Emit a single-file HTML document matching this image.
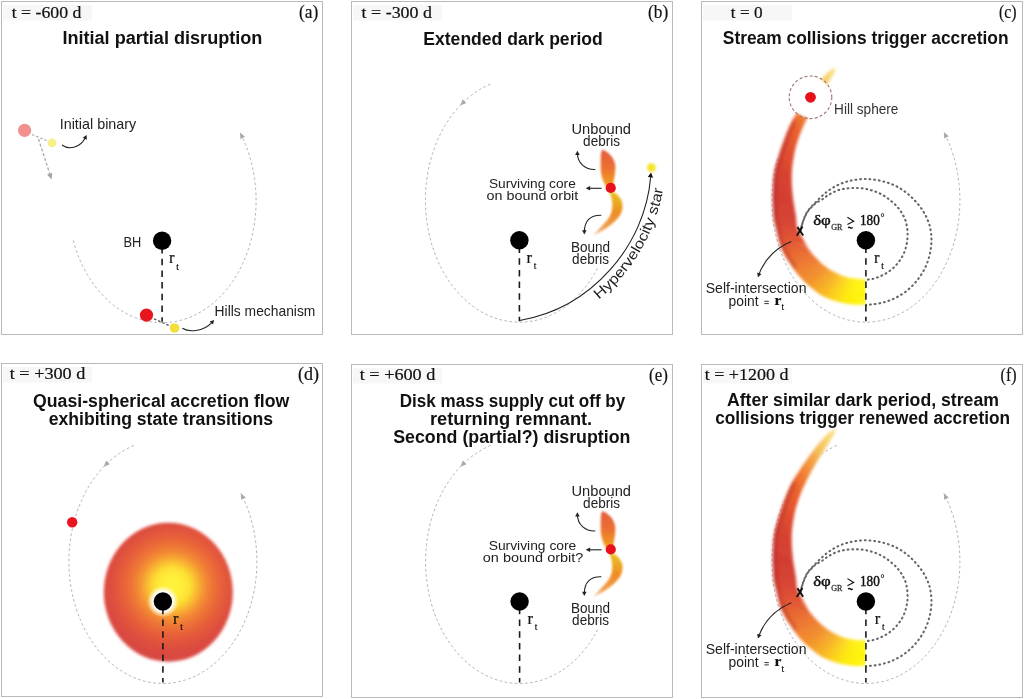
<!DOCTYPE html>
<html><head><meta charset="utf-8">
<style>
html,body{margin:0;padding:0;background:#fff;width:1024px;height:699px;overflow:hidden;}
svg{display:block;will-change:transform;}
.sans{font-family:"Liberation Sans", sans-serif;}
.serif{font-family:"Liberation Serif", serif;}
</style></head><body>
<svg width="1024" height="699" viewBox="0 0 1024 699">
<defs><radialGradient id="diskG" cx="172" cy="586" r="72" gradientUnits="userSpaceOnUse">
<stop offset="0" stop-color="#fff23a"/><stop offset="0.12" stop-color="#fff03a"/>
<stop offset="0.25" stop-color="#fde034"/><stop offset="0.35" stop-color="#f9b830"/><stop offset="0.45" stop-color="#f49034"/>
<stop offset="0.56" stop-color="#ee7436"/><stop offset="0.7" stop-color="#e65e3a"/><stop offset="0.85" stop-color="#de4e3e"/><stop offset="1" stop-color="#d84842"/></radialGradient>
<filter id="blur3" x="-20%" y="-20%" width="140%" height="140%"><feGaussianBlur stdDeviation="1.8"/></filter>
<filter id="blur1" x="-50%" y="-50%" width="200%" height="200%"><feGaussianBlur stdDeviation="1.1"/></filter>
<filter id="blurS" x="-20%" y="-20%" width="140%" height="140%"><feGaussianBlur stdDeviation="1.6"/></filter>
<radialGradient id="haloG"><stop offset="0" stop-color="#fff" stop-opacity="1"/><stop offset="0.62" stop-color="#fff" stop-opacity="1"/><stop offset="1" stop-color="#fffbe0" stop-opacity="0"/></radialGradient><clipPath id="st240"><path d="M865.9,304.5 L864.92,304.51 L863.65,304.55 L862.13,304.59 L860.44,304.63 L858.62,304.65 L856.73,304.62 L854.84,304.55 L853,304.4 L851.17,304.2 L849.28,303.97 L847.34,303.7 L845.36,303.39 L843.35,303.02 L841.31,302.59 L839.26,302.08 L837.2,301.5 L835.13,300.86 L833.02,300.19 L830.89,299.46 L828.74,298.66 L826.58,297.77 L824.41,296.78 L822.25,295.66 L820.1,294.4 L817.92,292.96 L815.67,291.33 L813.4,289.56 L811.14,287.7 L808.93,285.78 L806.79,283.84 L804.77,281.94 L802.9,280.1 L801.19,278.33 L799.61,276.59 L798.14,274.86 L796.76,273.13 L795.42,271.37 L794.12,269.58 L792.82,267.73 L791.5,265.8 L790.15,263.82 L788.78,261.8 L787.42,259.75 L786.09,257.64 L784.81,255.49 L783.59,253.26 L782.44,250.97 L781.4,248.6 L780.45,246.05 L779.58,243.29 L778.78,240.41 L778.05,237.49 L777.38,234.63 L776.77,231.9 L776.21,229.39 L775.7,227.2 L775.26,225.42 L774.89,224.03 L774.6,222.88 L774.35,221.86 L774.14,220.83 L773.96,219.68 L773.78,218.28 L773.6,216.5 L773.42,214.33 L773.24,211.88 L773.08,209.22 L772.94,206.42 L772.82,203.53 L772.74,200.62 L772.7,197.76 L772.7,195 L772.74,192.28 L772.81,189.5 L772.91,186.7 L773.05,183.92 L773.23,181.18 L773.44,178.53 L773.7,175.99 L774,173.6 L774.35,171.41 L774.74,169.39 L775.18,167.5 L775.66,165.69 L776.17,163.9 L776.72,162.09 L777.29,160.21 L777.9,158.2 L778.54,156.07 L779.23,153.86 L779.95,151.6 L780.71,149.3 L781.48,146.99 L782.28,144.69 L783.09,142.42 L783.9,140.2 L784.72,138.01 L785.54,135.81 L786.39,133.62 L787.24,131.45 L788.12,129.31 L789.02,127.22 L789.95,125.17 L790.9,123.2 L791.88,121.31 L792.9,119.49 L793.93,117.73 L794.99,116.01 L796.07,114.32 L797.17,112.63 L798.28,110.93 L799.4,109.2 L800.54,107.44 L801.69,105.68 L802.87,103.91 L804.06,102.14 L805.26,100.38 L806.47,98.63 L807.68,96.9 L808.9,95.2 L810.13,93.51 L811.39,91.81 L812.66,90.12 L813.93,88.45 L815.2,86.81 L816.46,85.22 L817.69,83.67 L818.9,82.2 L820.09,80.77 L821.29,79.35 L822.48,77.97 L823.65,76.64 L824.79,75.38 L825.88,74.21 L826.93,73.14 L827.9,72.2 L828.83,71.39 L829.75,70.68 L830.63,70.08 L831.46,69.57 L832.22,69.14 L832.89,68.78 L833.46,68.47 L833.9,68.2 L835.9,69.2 L835.7,69.63 L835.45,70.16 L835.17,70.79 L834.84,71.51 L834.45,72.32 L834,73.21 L833.49,74.17 L832.9,75.2 L832.24,76.3 L831.5,77.48 L830.7,78.74 L829.84,80.07 L828.92,81.49 L827.95,82.98 L826.95,84.55 L825.9,86.2 L824.79,87.96 L823.59,89.84 L822.33,91.82 L821.02,93.86 L819.71,95.95 L818.4,98.05 L817.12,100.15 L815.9,102.2 L814.72,104.23 L813.54,106.25 L812.39,108.29 L811.24,110.32 L810.12,112.37 L809.02,114.43 L807.95,116.51 L806.9,118.6 L805.87,120.71 L804.86,122.84 L803.87,124.99 L802.9,127.15 L801.96,129.31 L801.06,131.48 L800.21,133.64 L799.4,135.8 L798.64,137.93 L797.92,140.02 L797.24,142.1 L796.6,144.19 L796,146.3 L795.43,148.46 L794.9,150.69 L794.4,153 L793.93,155.41 L793.48,157.89 L793.06,160.44 L792.68,163.04 L792.35,165.67 L792.07,168.31 L791.85,170.96 L791.7,173.6 L791.62,176.24 L791.62,178.89 L791.67,181.56 L791.77,184.24 L791.93,186.93 L792.12,189.62 L792.35,192.31 L792.6,195 L792.91,197.76 L793.3,200.62 L793.75,203.53 L794.22,206.42 L794.7,209.22 L795.16,211.88 L795.57,214.33 L795.9,216.5 L796.12,218.33 L796.23,219.85 L796.28,221.15 L796.31,222.3 L796.38,223.4 L796.51,224.52 L796.77,225.76 L797.2,227.2 L797.81,228.84 L798.56,230.59 L799.43,232.43 L800.38,234.31 L801.38,236.19 L802.38,238.04 L803.37,239.83 L804.3,241.5 L805.16,243.05 L805.96,244.52 L806.74,245.92 L807.54,247.29 L808.38,248.64 L809.3,250.01 L810.33,251.42 L811.5,252.9 L812.84,254.48 L814.33,256.14 L815.92,257.85 L817.6,259.57 L819.32,261.27 L821.05,262.9 L822.75,264.42 L824.4,265.8 L826,267.04 L827.6,268.19 L829.2,269.25 L830.8,270.24 L832.4,271.16 L834,272.02 L835.6,272.83 L837.2,273.6 L838.79,274.32 L840.35,274.99 L841.9,275.59 L843.46,276.14 L845.05,276.65 L846.67,277.1 L848.35,277.52 L850.1,277.9 L852.04,278.23 L854.22,278.51 L856.51,278.73 L858.81,278.92 L861,279.07 L862.99,279.2 L864.66,279.3 L865.9,279.4 Z"/></clipPath><clipPath id="st240e"><rect x="665.9" y="-19.8" width="200" height="400"/></clipPath><clipPath id="st601"><path d="M865.9,665.8 L864.92,665.81 L863.65,665.85 L862.13,665.89 L860.44,665.93 L858.62,665.95 L856.73,665.92 L854.84,665.85 L853,665.7 L851.17,665.5 L849.28,665.27 L847.34,665 L845.36,664.69 L843.35,664.32 L841.31,663.89 L839.26,663.38 L837.2,662.8 L835.13,662.16 L833.02,661.49 L830.89,660.76 L828.74,659.96 L826.58,659.07 L824.41,658.08 L822.25,656.96 L820.1,655.7 L817.92,654.26 L815.67,652.63 L813.4,650.86 L811.14,649 L808.93,647.08 L806.79,645.14 L804.77,643.24 L802.9,641.4 L801.19,639.63 L799.61,637.89 L798.14,636.16 L796.76,634.43 L795.42,632.67 L794.12,630.88 L792.82,629.03 L791.5,627.1 L790.15,625.12 L788.78,623.1 L787.42,621.05 L786.09,618.94 L784.81,616.79 L783.59,614.56 L782.44,612.27 L781.4,609.9 L780.45,607.35 L779.58,604.59 L778.78,601.71 L778.05,598.79 L777.38,595.93 L776.77,593.2 L776.21,590.69 L775.7,588.5 L775.26,586.72 L774.89,585.33 L774.6,584.18 L774.35,583.16 L774.14,582.13 L773.96,580.98 L773.78,579.58 L773.6,577.8 L773.42,575.63 L773.24,573.18 L773.08,570.52 L772.94,567.72 L772.82,564.83 L772.74,561.92 L772.7,559.06 L772.7,556.3 L772.74,553.58 L772.81,550.8 L772.91,548 L773.05,545.22 L773.23,542.48 L773.44,539.83 L773.7,537.29 L774,534.9 L774.35,532.71 L774.74,530.69 L775.18,528.8 L775.66,526.99 L776.17,525.2 L776.72,523.39 L777.29,521.51 L777.9,519.5 L778.54,517.37 L779.23,515.16 L779.95,512.9 L780.71,510.6 L781.48,508.29 L782.28,505.99 L783.09,503.72 L783.9,501.5 L784.72,499.31 L785.54,497.11 L786.39,494.92 L787.24,492.75 L788.12,490.61 L789.02,488.52 L789.95,486.47 L790.9,484.5 L791.88,482.61 L792.9,480.79 L793.93,479.03 L794.99,477.31 L796.07,475.62 L797.17,473.93 L798.28,472.23 L799.4,470.5 L800.54,468.74 L801.69,466.98 L802.87,465.21 L804.06,463.44 L805.26,461.68 L806.47,459.93 L807.68,458.2 L808.9,456.5 L810.13,454.81 L811.39,453.11 L812.66,451.42 L813.93,449.75 L815.2,448.11 L816.46,446.52 L817.69,444.97 L818.9,443.5 L820.09,442.07 L821.29,440.65 L822.48,439.27 L823.65,437.94 L824.79,436.68 L825.88,435.51 L826.93,434.44 L827.9,433.5 L828.83,432.69 L829.75,431.98 L830.63,431.38 L831.46,430.88 L832.22,430.44 L832.89,430.08 L833.46,429.77 L833.9,429.5 L835.9,430.5 L835.7,430.93 L835.45,431.46 L835.17,432.09 L834.84,432.81 L834.45,433.62 L834,434.51 L833.49,435.47 L832.9,436.5 L832.24,437.6 L831.5,438.78 L830.7,440.04 L829.84,441.38 L828.92,442.79 L827.95,444.28 L826.95,445.85 L825.9,447.5 L824.79,449.26 L823.59,451.14 L822.33,453.12 L821.02,455.16 L819.71,457.25 L818.4,459.35 L817.12,461.45 L815.9,463.5 L814.72,465.53 L813.54,467.55 L812.39,469.59 L811.24,471.62 L810.12,473.67 L809.02,475.73 L807.95,477.81 L806.9,479.9 L805.87,482.01 L804.86,484.14 L803.87,486.29 L802.9,488.45 L801.96,490.61 L801.06,492.78 L800.21,494.94 L799.4,497.1 L798.64,499.23 L797.92,501.32 L797.24,503.4 L796.6,505.49 L796,507.6 L795.43,509.76 L794.9,511.99 L794.4,514.3 L793.93,516.71 L793.48,519.19 L793.06,521.74 L792.68,524.34 L792.35,526.97 L792.07,529.61 L791.85,532.26 L791.7,534.9 L791.62,537.54 L791.62,540.19 L791.67,542.86 L791.77,545.54 L791.93,548.23 L792.12,550.92 L792.35,553.61 L792.6,556.3 L792.91,559.06 L793.3,561.92 L793.75,564.83 L794.22,567.72 L794.7,570.52 L795.16,573.18 L795.57,575.63 L795.9,577.8 L796.12,579.63 L796.23,581.15 L796.28,582.45 L796.31,583.6 L796.38,584.7 L796.51,585.83 L796.77,587.06 L797.2,588.5 L797.81,590.14 L798.56,591.89 L799.43,593.73 L800.38,595.61 L801.38,597.49 L802.38,599.34 L803.37,601.13 L804.3,602.8 L805.16,604.35 L805.96,605.82 L806.74,607.22 L807.54,608.59 L808.38,609.94 L809.3,611.31 L810.33,612.72 L811.5,614.2 L812.84,615.78 L814.33,617.44 L815.92,619.15 L817.6,620.88 L819.32,622.57 L821.05,624.2 L822.75,625.72 L824.4,627.1 L826,628.34 L827.6,629.49 L829.2,630.55 L830.8,631.54 L832.4,632.46 L834,633.32 L835.6,634.13 L837.2,634.9 L838.79,635.62 L840.35,636.29 L841.9,636.89 L843.46,637.44 L845.05,637.95 L846.67,638.4 L848.35,638.82 L850.1,639.2 L852.04,639.53 L854.22,639.81 L856.51,640.03 L858.81,640.22 L861,640.37 L862.99,640.5 L864.66,640.6 L865.9,640.7 Z"/></clipPath><clipPath id="st601e"><rect x="665.9" y="341.5" width="200" height="400"/></clipPath><linearGradient id="upG" x1="0" y1="149" x2="0" y2="187" gradientUnits="userSpaceOnUse">
<stop offset="0" stop-color="#e45c3e"/><stop offset="0.5" stop-color="#ec7030"/><stop offset="1" stop-color="#f0a41c"/></linearGradient>
<linearGradient id="loG" x1="608" y1="192" x2="600" y2="236" gradientUnits="userSpaceOnUse">
<stop offset="0" stop-color="#e8c020"/><stop offset="0.45" stop-color="#f08a24"/><stop offset="0.8" stop-color="#f0a050"/><stop offset="1" stop-color="#f6c8a8"/></linearGradient><path id="hvp" d="M522.13,334.29 L523.26,334.09 L524.45,333.87 L525.63,333.65 L526.8,333.41 L527.97,333.17 L529.14,332.92 L530.31,332.66 L531.47,332.4 L532.63,332.12 L533.79,331.84 L534.94,331.55 L536.09,331.25 L537.23,330.95 L538.38,330.64 L539.52,330.32 L540.65,329.99 L541.78,329.65 L542.91,329.31 L544.03,328.95 L545.16,328.59 L546.27,328.23 L547.39,327.85 L548.5,327.47 L549.6,327.08 L550.7,326.68 L551.8,326.28 L552.9,325.87 L553.99,325.45 L555.07,325.02 L556.16,324.59 L557.23,324.15 L558.31,323.7 L559.38,323.24 L560.45,322.78 L561.51,322.31 L562.57,321.83 L563.62,321.35 L564.67,320.86 L565.72,320.36 L566.76,319.86 L567.8,319.35 L568.83,318.83 L569.86,318.3 L570.89,317.77 L571.91,317.23 L572.93,316.69 L573.94,316.14 L574.95,315.58 L575.95,315.01 L576.95,314.44 L577.95,313.86 L578.94,313.28 L579.92,312.69 L580.9,312.09 L581.88,311.48 L582.85,310.87 L583.82,310.26 L584.79,309.63 L585.74,309.01 L586.7,308.37 L587.65,307.73 L588.59,307.08 L589.53,306.43 L590.47,305.77 L591.4,305.1 L592.33,304.43 L593.25,303.75 L594.16,303.07 L595.07,302.38 L595.98,301.68 L596.88,300.98 L597.78,300.27 L598.67,299.56 L599.56,298.84 L600.44,298.12 L601.32,297.39 L602.19,296.65 L603.06,295.91 L603.92,295.16 L604.78,294.41 L605.63,293.65 L606.48,292.89 L607.32,292.12 L608.16,291.35 L608.99,290.57 L609.81,289.78 L610.64,288.99 L611.45,288.2 L612.26,287.4 L613.07,286.59 L613.87,285.78 L614.66,284.97 L615.45,284.15 L616.24,283.32 L617.02,282.49 L617.79,281.65 L618.56,280.81 L619.32,279.97 L620.08,279.11 L620.83,278.26 L621.58,277.4 L622.32,276.53 L623.06,275.66 L623.79,274.79 L624.51,273.91 L625.23,273.03 L625.94,272.14 L626.65,271.24 L627.35,270.35 L628.05,269.44 L628.74,268.54 L629.42,267.63 L630.1,266.71 L630.78,265.79 L631.44,264.87 L632.11,263.94 L632.76,263 L633.41,262.07 L634.06,261.13 L634.7,260.18 L635.33,259.23 L635.96,258.28 L636.58,257.32 L637.19,256.36 L637.8,255.39 L638.4,254.42 L639,253.45 L639.59,252.47 L640.18,251.49 L640.76,250.5 L641.33,249.51 L641.9,248.52 L642.46,247.52 L643.01,246.52 L643.56,245.51 L644.1,244.5 L644.64,243.49 L645.17,242.48 L645.69,241.46 L646.21,240.43 L646.72,239.41 L647.22,238.38 L647.72,237.34 L648.21,236.31 L648.7,235.27 L649.18,234.22 L649.65,233.18 L650.12,232.13 L650.58,231.07 L651.03,230.02 L651.48,228.96 L651.92,227.89 L652.35,226.83 L652.78,225.76 L653.2,224.69 L653.61,223.61 L654.02,222.53 L654.42,221.45 L654.82,220.36 L655.2,219.28 L655.58,218.19 L655.96,217.09 L656.33,216 L656.69,214.9 L657.04,213.8 L657.39,212.69 L657.73,211.59 L658.06,210.48 L658.38,209.36 L658.7,208.25 L659.02,207.13 L659.32,206.01 L659.62,204.89 L659.91,203.76 L660.2,202.64 L660.47,201.51 L660.74,200.37 L661.01,199.24 L661.26,198.1 L661.51,196.96 L661.75,195.82 L661.99,194.68 L662.21,193.53 L662.43,192.39 L662.65,191.24 L662.85,190.08 L663.05,188.93 L663.24,187.77 L663.42,186.62 L663.6,185.46 L663.77,184.29 L663.93,183.13 L664.08,181.96 L664.23,180.8 L664.37,179.63 L664.5,178.46 L664.63,177.28 L664.74,176.11 L664.85,174.93 L664.95,173.8"/></defs>
<rect width="1024" height="699" fill="#fff"/>
<rect x="1.5" y="1.5" width="321" height="333" fill="#fff" stroke="#b9b9b9" stroke-width="1"/>
<rect x="3" y="5" width="89" height="15.5" fill="#f7f7f7"/>
<rect x="351.5" y="1.5" width="321" height="333" fill="#fff" stroke="#b9b9b9" stroke-width="1"/>
<rect x="353" y="5" width="89" height="15.5" fill="#f7f7f7"/>
<rect x="701.5" y="1.5" width="321" height="333" fill="#fff" stroke="#b9b9b9" stroke-width="1"/>
<rect x="703" y="5" width="89" height="15.5" fill="#f7f7f7"/>
<rect x="1.5" y="363.5" width="321" height="333" fill="#fff" stroke="#b9b9b9" stroke-width="1"/>
<rect x="3" y="367" width="89" height="15.5" fill="#f7f7f7"/>
<rect x="351.5" y="364.5" width="321" height="333" fill="#fff" stroke="#b9b9b9" stroke-width="1"/>
<rect x="353" y="368" width="89" height="15.5" fill="#f7f7f7"/>
<rect x="701.5" y="364.5" width="321" height="333" fill="#fff" stroke="#b9b9b9" stroke-width="1"/>
<rect x="703" y="368" width="89" height="15.5" fill="#f7f7f7"/>
<text x="11.7" y="18" class="serif" font-size="17" fill="#111" stroke="#111" stroke-width="0.2" textLength="69.8" lengthAdjust="spacingAndGlyphs">t = -600 d</text>
<text x="361.6" y="18" class="serif" font-size="17" fill="#111" stroke="#111" stroke-width="0.2" textLength="70.4" lengthAdjust="spacingAndGlyphs">t = -300 d</text>
<text x="730.8" y="17.8" class="serif" font-size="17" fill="#111" stroke="#111" stroke-width="0.2" textLength="31.7" lengthAdjust="spacingAndGlyphs">t = 0</text>
<text x="9.7" y="379.3" class="serif" font-size="17" fill="#111" stroke="#111" stroke-width="0.2" textLength="75.7" lengthAdjust="spacingAndGlyphs">t = +300 d</text>
<text x="359.7" y="380.3" class="serif" font-size="17" fill="#111" stroke="#111" stroke-width="0.2" textLength="75.7" lengthAdjust="spacingAndGlyphs">t = +600 d</text>
<text x="704.7" y="380.3" class="serif" font-size="17" fill="#111" stroke="#111" stroke-width="0.2" textLength="83.9" lengthAdjust="spacingAndGlyphs">t = +1200 d</text>
<text x="299" y="17.6" class="serif" font-size="18" fill="#111" stroke="#111" stroke-width="0.2" textLength="19.3" lengthAdjust="spacingAndGlyphs">(a)</text>
<text x="648.1" y="17.8" class="serif" font-size="18" fill="#111" stroke="#111" stroke-width="0.2" textLength="20.2" lengthAdjust="spacingAndGlyphs">(b)</text>
<text x="999" y="17.6" class="serif" font-size="18" fill="#111" stroke="#111" stroke-width="0.2" textLength="17.5" lengthAdjust="spacingAndGlyphs">(c)</text>
<text x="298.1" y="380" class="serif" font-size="18" fill="#111" stroke="#111" stroke-width="0.2" textLength="21" lengthAdjust="spacingAndGlyphs">(d)</text>
<text x="649" y="380.8" class="serif" font-size="18" fill="#111" stroke="#111" stroke-width="0.2" textLength="18.8" lengthAdjust="spacingAndGlyphs">(e)</text>
<text x="1000.6" y="380.8" class="serif" font-size="18" fill="#111" stroke="#111" stroke-width="0.2" textLength="15.9" lengthAdjust="spacingAndGlyphs">(f)</text>
<text x="62.4" y="44.1" class="sans" font-size="17.5" font-weight="bold" fill="#111" textLength="200.0" lengthAdjust="spacingAndGlyphs">Initial partial disruption</text>
<text x="423.3" y="44.5" class="sans" font-size="17.5" font-weight="bold" fill="#111" textLength="179.5" lengthAdjust="spacingAndGlyphs">Extended dark period</text>
<text x="722.8" y="44.3" class="sans" font-size="17.5" font-weight="bold" fill="#111" textLength="285.7" lengthAdjust="spacingAndGlyphs">Stream collisions trigger accretion</text>
<text x="33.1" y="406.9" class="sans" font-size="17.5" font-weight="bold" fill="#111" textLength="256.2" lengthAdjust="spacingAndGlyphs">Quasi-spherical accretion flow</text>
<text x="48.7" y="424.6" class="sans" font-size="17.5" font-weight="bold" fill="#111" textLength="224.3" lengthAdjust="spacingAndGlyphs">exhibiting state transitions</text>
<text x="399.8" y="406.6" class="sans" font-size="17.5" font-weight="bold" fill="#111" textLength="225.4" lengthAdjust="spacingAndGlyphs">Disk mass supply cut off by</text>
<text x="430" y="424.5" class="sans" font-size="17.5" font-weight="bold" fill="#111" textLength="162.2" lengthAdjust="spacingAndGlyphs">returning remnant.</text>
<text x="393.2" y="442.5" class="sans" font-size="17.5" font-weight="bold" fill="#111" textLength="237.3" lengthAdjust="spacingAndGlyphs">Second (partial?) disruption</text>
<text x="726.9" y="406.3" class="sans" font-size="17.5" font-weight="bold" fill="#111" textLength="272.1" lengthAdjust="spacingAndGlyphs">After similar dark period, stream</text>
<text x="715.2" y="423.7" class="sans" font-size="17.5" font-weight="bold" fill="#111" textLength="294.8" lengthAdjust="spacingAndGlyphs">collisions trigger renewed accretion</text>
<path d="M73.22,240.42 L73.94,243.03 L74.7,245.61 L75.51,248.17 L76.36,250.71 L77.26,253.22 L78.2,255.71 L79.18,258.16 L80.21,260.59 L81.27,262.99 L82.38,265.35 L83.53,267.68 L84.73,269.98 L85.96,272.24 L87.23,274.46 L88.53,276.65 L89.88,278.79 L91.27,280.9 L92.69,282.96 L94.14,284.99 L95.63,286.97 L97.16,288.9 L98.72,290.79 L100.31,292.63 L101.93,294.43 L103.58,296.18 L105.27,297.88 L106.98,299.53 L108.72,301.12 L110.49,302.67 L112.29,304.16 L114.11,305.6 L115.96,306.99 L117.82,308.32 L119.72,309.6 L121.63,310.82 L123.57,311.98 L125.52,313.08 L127.5,314.13 L129.49,315.12 L131.5,316.05 L133.52,316.92 L135.56,317.74 L137.61,318.49 L139.68,319.18 L141.75,319.81 L143.84,320.38 L145.94,320.88 L148.04,321.33 L150.16,321.71 L152.27,322.03 L154.4,322.29 L156.53,322.49 L158.66,322.62 L160.79,322.69 L162.92,322.7 L165.05,322.64 L167.18,322.52 L169.31,322.34 L171.44,322.1 L173.56,321.79 L175.67,321.42 L177.78,320.99 L179.87,320.5 L181.96,319.94 L184.04,319.33 L186.11,318.65 L188.17,317.92 L190.21,317.12 L192.24,316.26 L194.25,315.34 L196.25,314.37 L198.22,313.33 L200.18,312.24 L202.12,311.09 L204.04,309.88 L205.94,308.62 L207.82,307.3 L209.67,305.93 L211.49,304.5 L213.3,303.02 L215.07,301.48 L216.82,299.9 L218.54,298.26 L220.23,296.57 L221.89,294.84 L223.52,293.05 L225.12,291.22 L226.69,289.34 L228.22,287.42 L229.72,285.45 L231.18,283.44 L232.61,281.38 L234,279.28 L235.36,277.15 L236.68,274.97 L237.95,272.75 L239.19,270.5 L240.39,268.21 L241.55,265.89 L242.67,263.53 L243.75,261.15 L244.79,258.73 L245.78,256.28 L246.73,253.8 L247.64,251.29 L248.5,248.76 L249.32,246.2 L250.09,243.62 L250.82,241.02 L251.5,238.4 L252.14,235.76 L252.72,233.1 L253.27,230.42 L253.76,227.73 L254.21,225.02 L254.61,222.3 L254.97,219.57 L255.27,216.84 L255.53,214.09 L255.74,211.33 L255.9,208.57 L256.02,205.81 L256.08,203.04 L256.1,200.27 L256.07,197.51 L255.99,194.74 L255.86,191.98 L255.68,189.22 L255.46,186.47 L255.19,183.72 L254.86,180.98 L254.5,178.26 L254.08,175.54 L253.62,172.84 L253.11,170.15 L252.55,167.48 L251.94,164.83 L251.29,162.19 L250.6,159.57 L249.86,156.98 L249.07,154.41 L248.24,151.86 L247.36,149.33 L246.44,146.84 L245.48,144.37 L244.47,141.93 L243.42,139.52 L242.33,137.14 L241.2,134.79 L240.03,132.48" fill="none" stroke="#b5b5b5" stroke-width="1" stroke-dasharray="2.7 2.4"/>
<path d="M240.03,132.48 L245.01,136.72 L240.34,139.01 Z" fill="#aaa"/>
<path d="M490.35,84.17 L488.09,85.16 L485.86,86.23 L483.64,87.37 L481.45,88.59 L479.28,89.87 L477.13,91.23 L475.02,92.65 L472.93,94.15 L470.87,95.71 L468.85,97.34 L466.85,99.04 L464.89,100.8 L462.97,102.63 L461.08,104.52 L459.23,106.47 L457.42,108.48 L455.64,110.55 L453.91,112.68 L452.22,114.86 L450.58,117.1 L448.98,119.39 L447.42,121.74 L445.91,124.13 L444.45,126.57 L443.03,129.07 L441.67,131.6 L440.35,134.18 L439.09,136.81 L437.87,139.47 L436.71,142.17 L435.61,144.91 L434.55,147.69 L433.55,150.5 L432.61,153.34 L431.72,156.21 L430.89,159.11 L430.12,162.04 L429.4,164.99 L428.74,167.97 L428.14,170.96 L427.6,173.97 L427.11,177 L426.69,180.05 L426.33,183.11 L426.02,186.18 L425.78,189.26 L425.6,192.34 L425.47,195.43 L425.41,198.53 L425.41,201.62 L425.46,204.71 L425.58,207.8 L425.76,210.89 L426,213.97 L426.3,217.04 L426.66,220.1 L427.08,223.14 L427.56,226.18 L428.09,229.19 L428.69,232.19 L429.34,235.16 L430.05,238.12 L430.82,241.04 L431.65,243.95 L432.53,246.82 L433.47,249.67 L434.47,252.48 L435.52,255.26 L436.62,258 L437.78,260.71 L438.98,263.38 L440.24,266 L441.56,268.59 L442.92,271.13 L444.33,273.62 L445.79,276.07 L447.29,278.47 L448.85,280.82 L450.44,283.11 L452.09,285.36 L453.77,287.54 L455.5,289.68 L457.27,291.75 L459.08,293.77 L460.93,295.72 L462.81,297.62 L464.73,299.45 L466.69,301.22 L468.68,302.92 L470.71,304.55 L472.76,306.12 L474.85,307.62 L476.96,309.06 L479.1,310.42 L481.27,311.71 L483.46,312.93 L485.67,314.08 L487.91,315.15 L490.17,316.15 L492.44,317.07 L494.73,317.92 L497.04,318.7 L499.36,319.4 L501.7,320.02 L504.05,320.56 L506.4,321.03 L508.77,321.42 L511.14,321.73 L513.52,321.96 L515.9,322.12 L518.28,322.19 L520.67,322.19 L523.05,322.11 L525.43,321.95 L527.81,321.71 L530.18,321.39 L532.55,321 L534.9,320.53 L537.25,319.98 L539.59,319.35 L541.91,318.65 L544.21,317.87 L546.51,317.02 L548.78,316.09 L551.04,315.08 L553.27,314 L555.48,312.85 L557.67,311.63 L559.84,310.33 L561.98,308.97 L564.09,307.53 L566.17,306.03 L568.23,304.45 L570.25,302.81 L572.24,301.1 L574.19,299.33 L576.11,297.5 L577.99,295.6 L579.84,293.64 L581.65,291.62 L583.41,289.54 L585.14,287.41 L586.82,285.21 L588.46,282.97 L590.05,280.67 L591.6,278.32 L593.11,275.91 L594.56,273.46 L595.97,270.96 L597.33,268.42" fill="none" stroke="#b5b5b5" stroke-width="1" stroke-dasharray="2.7 2.4"/>
<path d="M460.24,105.39 L462.66,99.31 L466.33,103 Z" fill="#aaa"/>
<path d="M777.57,158.47 L776.73,161.61 L775.95,164.78 L775.24,167.97 L774.6,171.18 L774.02,174.42 L773.52,177.67 L773.08,180.95 L772.71,184.23 L772.41,187.53 L772.18,190.84 L772.02,194.16 L771.92,197.47 L771.9,200.8 L771.95,204.12 L772.07,207.44 L772.25,210.75 L772.51,214.05 L772.83,217.35 L773.23,220.63 L773.69,223.9 L774.22,227.15 L774.82,230.38 L775.49,233.58 L776.22,236.76 L777.02,239.92 L777.89,243.04 L778.82,246.14 L779.81,249.2 L780.87,252.22 L782,255.21 L783.18,258.15 L784.43,261.05 L785.73,263.91 L787.1,266.72 L788.53,269.48 L790.01,272.19 L791.55,274.84 L793.14,277.44 L794.79,279.98 L796.49,282.46 L798.24,284.89 L800.04,287.25 L801.89,289.54 L803.79,291.77 L805.73,293.93 L807.72,296.02 L809.75,298.04 L811.82,299.99 L813.94,301.86 L816.09,303.66 L818.28,305.38 L820.5,307.03 L822.76,308.59 L825.05,310.08 L827.37,311.48 L829.72,312.8 L832.09,314.04 L834.49,315.19 L836.91,316.26 L839.36,317.24 L841.82,318.13 L844.31,318.94 L846.81,319.66 L849.32,320.29 L851.84,320.83 L854.38,321.28 L856.92,321.64 L859.47,321.91 L862.03,322.1 L864.59,322.19 L867.15,322.19 L869.71,322.1 L872.26,321.92 L874.81,321.65 L877.36,321.29 L879.89,320.84 L882.42,320.3 L884.93,319.67 L887.43,318.96 L889.91,318.15 L892.38,317.26 L894.82,316.28 L897.25,315.22 L899.65,314.07 L902.02,312.83 L904.37,311.51 L906.69,310.11 L908.98,308.63 L911.24,307.07 L913.47,305.43 L915.66,303.71 L917.81,301.91 L919.92,300.04 L922,298.09 L924.03,296.07 L926.02,293.99 L927.96,291.83 L929.86,289.6 L931.72,287.31 L933.52,284.95 L935.27,282.53 L936.97,280.05 L938.62,277.51 L940.21,274.91 L941.75,272.25 L943.24,269.55 L944.66,266.79 L946.03,263.98 L947.34,261.13 L948.59,258.23 L949.77,255.28 L950.9,252.3 L951.96,249.28 L952.96,246.22 L953.89,243.12 L954.76,240 L955.56,236.85 L956.29,233.66 L956.96,230.46 L957.56,227.23 L958.1,223.98 L958.56,220.71 L958.96,217.43 L959.28,214.14 L959.54,210.83 L959.73,207.52 L959.85,204.2 L959.9,200.88 L959.88,197.56 L959.79,194.24 L959.63,190.93 L959.4,187.62 L959.1,184.32 L958.73,181.03 L958.3,177.76 L957.79,174.5 L957.22,171.26 L956.58,168.05 L955.87,164.86 L955.09,161.69 L954.25,158.55 L953.35,155.45 L952.38,152.37 L951.34,149.34 L950.24,146.34 L949.08,143.38 L947.86,140.46 L946.57,137.58 L945.23,134.76 L943.83,131.98" fill="none" stroke="#b5b5b5" stroke-width="1" stroke-dasharray="2.7 2.4"/>
<path d="M943.83,131.98 L948.81,136.22 L944.14,138.51 Z" fill="#aaa"/>
<path d="M133.85,445.47 L130.89,446.79 L127.97,448.24 L125.09,449.81 L122.24,451.5 L119.45,453.32 L116.7,455.25 L114,457.31 L111.36,459.48 L108.77,461.76 L106.24,464.15 L103.78,466.65 L101.38,469.26 L99.05,471.97 L96.79,474.77 L94.6,477.68 L92.49,480.67 L90.46,483.76 L88.5,486.93 L86.63,490.18 L84.85,493.51 L83.15,496.92 L81.54,500.4 L80.02,503.95 L78.59,507.56 L77.25,511.23 L76.01,514.96 L74.86,518.73 L73.82,522.56 L72.87,526.43 L72.02,530.34 L71.27,534.28 L70.62,538.25 L70.08,542.25 L69.64,546.27 L69.3,550.3 L69.06,554.35 L68.93,558.41 L68.9,562.47 L68.98,566.52 L69.16,570.58 L69.45,574.62 L69.83,578.65 L70.32,582.66 L70.92,586.64 L71.61,590.6 L72.41,594.53 L73.31,598.42 L74.3,602.26 L75.4,606.07 L76.59,609.82 L77.87,613.52 L79.25,617.16 L80.73,620.75 L82.29,624.26 L83.95,627.71 L85.69,631.08 L87.51,634.38 L89.42,637.59 L91.41,640.72 L93.49,643.76 L95.63,646.72 L97.85,649.57 L100.15,652.33 L102.51,654.99 L104.94,657.55 L107.44,660 L109.99,662.34 L112.61,664.57 L115.28,666.68 L118,668.68 L120.77,670.56 L123.59,672.32 L126.45,673.96 L129.36,675.47 L132.3,676.85 L135.27,678.11 L138.28,679.24 L141.31,680.24 L144.36,681.1 L147.44,681.84 L150.53,682.44 L153.64,682.91 L156.76,683.24 L159.88,683.44 L163.01,683.5 L166.14,683.43 L169.26,683.22 L172.38,682.88 L175.48,682.4 L178.58,681.79 L181.65,681.05 L184.71,680.17 L187.74,679.16 L190.74,678.03 L193.71,676.76 L196.65,675.37 L199.55,673.85 L202.41,672.2 L205.22,670.43 L207.99,668.55 L210.71,666.54 L213.38,664.42 L215.99,662.18 L218.54,659.83 L221.03,657.37 L223.46,654.81 L225.81,652.14 L228.1,649.38 L230.32,646.51 L232.46,643.56 L234.53,640.51 L236.51,637.37 L238.42,634.15 L240.24,630.85 L241.97,627.47 L243.62,624.02 L245.18,620.5 L246.64,616.91 L248.02,613.27 L249.3,609.56 L250.48,605.8 L251.57,602 L252.56,598.15 L253.45,594.25 L254.24,590.33 L254.93,586.37 L255.51,582.38 L256,578.37 L256.38,574.34 L256.66,570.29 L256.83,566.24 L256.9,562.18 L256.86,558.12 L256.73,554.07 L256.48,550.02 L256.14,545.98 L255.69,541.97 L255.14,537.97 L254.48,534 L253.73,530.06 L252.87,526.16 L251.91,522.29 L250.86,518.47 L249.71,514.69 L248.46,510.97 L247.12,507.31 L245.68,503.7 L244.15,500.16 L242.54,496.68 L240.83,493.28" fill="none" stroke="#b5b5b5" stroke-width="1" stroke-dasharray="2.7 2.4"/>
<path d="M240.83,493.28 L245.81,497.52 L241.14,499.81 Z" fill="#aaa"/>
<path d="M103.74,466.69 L106.16,460.61 L109.83,464.3 Z" fill="#aaa"/>
<path d="M490.55,445.47 L488.29,446.46 L486.06,447.53 L483.84,448.67 L481.65,449.89 L479.48,451.17 L477.33,452.53 L475.22,453.95 L473.13,455.45 L471.07,457.01 L469.05,458.64 L467.05,460.34 L465.09,462.1 L463.17,463.93 L461.28,465.82 L459.43,467.77 L457.62,469.78 L455.84,471.85 L454.11,473.98 L452.42,476.16 L450.78,478.4 L449.18,480.69 L447.62,483.04 L446.11,485.43 L444.65,487.87 L443.23,490.37 L441.87,492.9 L440.55,495.48 L439.29,498.11 L438.07,500.77 L436.91,503.47 L435.81,506.21 L434.75,508.99 L433.75,511.8 L432.81,514.64 L431.92,517.51 L431.09,520.41 L430.32,523.34 L429.6,526.29 L428.94,529.27 L428.34,532.26 L427.8,535.27 L427.31,538.3 L426.89,541.35 L426.53,544.41 L426.22,547.48 L425.98,550.56 L425.8,553.64 L425.67,556.73 L425.61,559.83 L425.61,562.92 L425.66,566.01 L425.78,569.1 L425.96,572.19 L426.2,575.27 L426.5,578.34 L426.86,581.4 L427.28,584.44 L427.76,587.48 L428.29,590.49 L428.89,593.49 L429.54,596.46 L430.25,599.42 L431.02,602.34 L431.85,605.25 L432.73,608.12 L433.67,610.97 L434.67,613.78 L435.72,616.56 L436.82,619.3 L437.98,622.01 L439.18,624.68 L440.44,627.3 L441.76,629.89 L443.12,632.43 L444.53,634.92 L445.99,637.37 L447.49,639.77 L449.05,642.12 L450.64,644.41 L452.29,646.66 L453.97,648.84 L455.7,650.98 L457.47,653.05 L459.28,655.07 L461.13,657.02 L463.01,658.92 L464.93,660.75 L466.89,662.52 L468.88,664.22 L470.91,665.85 L472.96,667.42 L475.05,668.92 L477.16,670.36 L479.3,671.72 L481.47,673.01 L483.66,674.23 L485.87,675.38 L488.11,676.45 L490.37,677.45 L492.64,678.37 L494.93,679.22 L497.24,680 L499.56,680.7 L501.9,681.32 L504.25,681.86 L506.6,682.33 L508.97,682.72 L511.34,683.03 L513.72,683.26 L516.1,683.42 L518.48,683.49 L520.87,683.49 L523.25,683.41 L525.63,683.25 L528.01,683.01 L530.38,682.69 L532.75,682.3 L535.1,681.83 L537.45,681.28 L539.79,680.65 L542.11,679.95 L544.41,679.17 L546.71,678.32 L548.98,677.39 L551.24,676.38 L553.47,675.3 L555.68,674.15 L557.87,672.93 L560.04,671.63 L562.18,670.27 L564.29,668.83 L566.37,667.33 L568.43,665.75 L570.45,664.11 L572.44,662.4 L574.39,660.63 L576.31,658.8 L578.19,656.9 L580.04,654.94 L581.85,652.92 L583.61,650.84 L585.34,648.71 L587.02,646.51 L588.66,644.27 L590.25,641.97 L591.8,639.62 L593.31,637.21 L594.76,634.76 L596.17,632.26 L597.53,629.72" fill="none" stroke="#b5b5b5" stroke-width="1" stroke-dasharray="2.7 2.4"/>
<path d="M460.44,466.69 L462.86,460.61 L466.53,464.3 Z" fill="#aaa"/>
<path d="M836.85,445.47 L833.89,446.79 L830.97,448.24 L828.09,449.81 L825.24,451.5 L822.45,453.32 L819.7,455.25 L817,457.31 L814.36,459.48 L811.77,461.76 L809.24,464.15 L806.78,466.65 L804.38,469.26 L802.05,471.97 L799.79,474.77 L797.6,477.68 L795.49,480.67 L793.46,483.76 L791.5,486.93 L789.63,490.18 L787.85,493.51 L786.15,496.92 L784.54,500.4 L783.02,503.95 L781.59,507.56 L780.25,511.23 L779.01,514.96 L777.86,518.73 L776.82,522.56 L775.87,526.43 L775.02,530.34 L774.27,534.28 L773.62,538.25 L773.08,542.25 L772.64,546.27 L772.3,550.3 L772.06,554.35 L771.93,558.41 L771.9,562.47 L771.98,566.52 L772.16,570.58 L772.45,574.62 L772.83,578.65 L773.32,582.66 L773.92,586.64 L774.61,590.6 L775.41,594.53 L776.31,598.42 L777.3,602.26 L778.4,606.07 L779.59,609.82 L780.87,613.52 L782.25,617.16 L783.73,620.75 L785.29,624.26 L786.95,627.71 L788.69,631.08 L790.51,634.38 L792.42,637.59 L794.41,640.72 L796.49,643.76 L798.63,646.72 L800.85,649.57 L803.15,652.33 L805.51,654.99 L807.94,657.55 L810.44,660 L812.99,662.34 L815.61,664.57 L818.28,666.68 L821,668.68 L823.77,670.56 L826.59,672.32 L829.45,673.96 L832.36,675.47 L835.3,676.85 L838.27,678.11 L841.28,679.24 L844.31,680.24 L847.36,681.1 L850.44,681.84 L853.53,682.44 L856.64,682.91 L859.76,683.24 L862.88,683.44 L866.01,683.5 L869.14,683.43 L872.26,683.22 L875.38,682.88 L878.48,682.4 L881.58,681.79 L884.65,681.05 L887.71,680.17 L890.74,679.16 L893.74,678.03 L896.71,676.76 L899.65,675.37 L902.55,673.85 L905.41,672.2 L908.22,670.43 L910.99,668.55 L913.71,666.54 L916.38,664.42 L918.99,662.18 L921.54,659.83 L924.03,657.37 L926.46,654.81 L928.81,652.14 L931.1,649.38 L933.32,646.51 L935.46,643.56 L937.53,640.51 L939.51,637.37 L941.42,634.15 L943.24,630.85 L944.97,627.47 L946.62,624.02 L948.18,620.5 L949.64,616.91 L951.02,613.27 L952.3,609.56 L953.48,605.8 L954.57,602 L955.56,598.15 L956.45,594.25 L957.24,590.33 L957.93,586.37 L958.51,582.38 L959,578.37 L959.38,574.34 L959.66,570.29 L959.83,566.24 L959.9,562.18 L959.86,558.12 L959.73,554.07 L959.48,550.02 L959.14,545.98 L958.69,541.97 L958.14,537.97 L957.48,534 L956.73,530.06 L955.87,526.16 L954.91,522.29 L953.86,518.47 L952.71,514.69 L951.46,510.97 L950.12,507.31 L948.68,503.7 L947.15,500.16 L945.54,496.68 L943.83,493.28" fill="none" stroke="#b5b5b5" stroke-width="1" stroke-dasharray="2.7 2.4"/>
<path d="M943.83,493.28 L948.81,497.52 L944.14,499.81 Z" fill="#aaa"/>
<ellipse cx="168.3" cy="592.2" rx="64.5" ry="69.5" fill="url(#diskG)" filter="url(#blur3)"/>
<circle cx="162.9" cy="601.5" r="16" fill="url(#haloG)"/>
<circle cx="72.2" cy="522.2" r="5.2" fill="#e8141e"/>
<g clip-path="url(#st240e)"><g filter="url(#blurS)"><g clip-path="url(#st240)">
<path d="M865.9,240.2 L889.94,468.94 L884.75,469.43 Z" fill="rgb(255, 245, 0)"/>
<path d="M865.9,240.2 L885.95,469.32 L880.74,469.72 Z" fill="rgb(255, 245, 0)"/>
<path d="M865.9,240.2 L881.94,469.64 L876.73,469.94 Z" fill="rgb(255, 245, 0)"/>
<path d="M865.9,240.2 L877.94,469.88 L872.72,470.1 Z" fill="rgb(255, 244, 0)"/>
<path d="M865.9,240.2 L873.93,470.06 L868.71,470.18 Z" fill="rgb(255, 244, 0)"/>
<path d="M865.9,240.2 L869.91,470.16 L864.7,470.2 Z" fill="rgb(255, 244, 0)"/>
<path d="M865.9,240.2 L865.9,470.2 L860.68,470.14 Z" fill="rgb(255, 244, 0)"/>
<path d="M865.9,240.2 L861.89,470.16 L856.67,470.01 Z" fill="rgb(255, 244, 0)"/>
<path d="M865.9,240.2 L857.87,470.06 L852.66,469.82 Z" fill="rgb(255, 243, 0)"/>
<path d="M865.9,240.2 L853.86,469.88 L848.65,469.55 Z" fill="rgb(255, 243, 0)"/>
<path d="M865.9,240.2 L849.86,469.64 L844.65,469.22 Z" fill="rgb(255, 243, 0)"/>
<path d="M865.9,240.2 L845.85,469.32 L840.66,468.81 Z" fill="rgb(255, 243, 0)"/>
<path d="M865.9,240.2 L841.86,468.94 L836.68,468.34 Z" fill="rgb(255, 243, 0)"/>
<path d="M865.9,240.2 L837.87,468.49 L832.7,467.79 Z" fill="rgb(255, 242, 0)"/>
<path d="M865.9,240.2 L833.89,467.96 L828.73,467.18 Z" fill="rgb(255, 242, 0)"/>
<path d="M865.9,240.2 L829.92,467.37 L824.78,466.49 Z" fill="rgb(255, 242, 0)"/>
<path d="M865.9,240.2 L825.96,466.71 L820.83,465.74 Z" fill="rgb(255, 242, 0)"/>
<path d="M865.9,240.2 L822.01,465.97 L816.9,464.92 Z" fill="rgb(255, 240, 1)"/>
<path d="M865.9,240.2 L818.08,465.17 L812.99,464.03 Z" fill="rgb(254, 240, 2)"/>
<path d="M865.9,240.2 L814.16,464.31 L809.09,463.07 Z" fill="rgb(254, 238, 2)"/>
<path d="M865.9,240.2 L810.26,463.37 L805.21,462.05 Z" fill="rgb(254, 238, 3)"/>
<path d="M865.9,240.2 L806.37,462.36 L801.35,460.96 Z" fill="rgb(254, 236, 3)"/>
<path d="M865.9,240.2 L802.5,461.29 L797.5,459.79 Z" fill="rgb(254, 236, 4)"/>
<path d="M865.9,240.2 L798.65,460.15 L793.68,458.57 Z" fill="rgb(254, 234, 4)"/>
<path d="M865.9,240.2 L794.83,458.94 L789.88,457.27 Z" fill="rgb(253, 234, 5)"/>
<path d="M865.9,240.2 L791.02,457.67 L786.1,455.91 Z" fill="rgb(253, 232, 6)"/>
<path d="M865.9,240.2 L787.24,456.33 L782.35,454.49 Z" fill="rgb(253, 231, 7)"/>
<path d="M865.9,240.2 L783.48,454.92 L778.63,453 Z" fill="rgb(253, 228, 8)"/>
<path d="M865.9,240.2 L779.74,453.45 L774.92,451.44 Z" fill="rgb(252, 226, 9)"/>
<path d="M865.9,240.2 L776.03,451.92 L771.25,449.82 Z" fill="rgb(252, 224, 10)"/>
<path d="M865.9,240.2 L772.35,450.32 L767.61,448.14 Z" fill="rgb(252, 221, 11)"/>
<path d="M865.9,240.2 L768.7,448.65 L763.99,446.39 Z" fill="rgb(252, 219, 13)"/>
<path d="M865.9,240.2 L765.07,446.92 L760.41,444.58 Z" fill="rgb(252, 216, 14)"/>
<path d="M865.9,240.2 L761.48,445.13 L756.86,442.71 Z" fill="rgb(252, 214, 15)"/>
<path d="M865.9,240.2 L757.92,443.28 L753.34,440.78 Z" fill="rgb(251, 212, 16)"/>
<path d="M865.9,240.2 L754.39,441.36 L749.86,438.78 Z" fill="rgb(251, 209, 17)"/>
<path d="M865.9,240.2 L750.9,439.39 L746.41,436.73 Z" fill="rgb(251, 207, 19)"/>
<path d="M865.9,240.2 L747.44,437.35 L743,434.61 Z" fill="rgb(250, 204, 20)"/>
<path d="M865.9,240.2 L744.02,435.25 L739.62,432.44 Z" fill="rgb(250, 201, 21)"/>
<path d="M865.9,240.2 L740.63,433.09 L736.29,430.2 Z" fill="rgb(250, 198, 22)"/>
<path d="M865.9,240.2 L737.29,430.88 L732.99,427.91 Z" fill="rgb(249, 195, 23)"/>
<path d="M865.9,240.2 L733.98,428.6 L729.74,425.56 Z" fill="rgb(249, 192, 24)"/>
<path d="M865.9,240.2 L730.71,426.27 L726.52,423.16 Z" fill="rgb(249, 189, 25)"/>
<path d="M865.9,240.2 L727.48,423.89 L723.35,420.7 Z" fill="rgb(248, 186, 26)"/>
<path d="M865.9,240.2 L724.3,421.44 L720.22,418.18 Z" fill="rgb(248, 183, 27)"/>
<path d="M865.9,240.2 L721.16,418.94 L717.14,415.61 Z" fill="rgb(248, 180, 28)"/>
<path d="M865.9,240.2 L718.06,416.39 L714.1,412.99 Z" fill="rgb(247, 177, 29)"/>
<path d="M865.9,240.2 L715.01,413.78 L711.11,410.32 Z" fill="rgb(247, 175, 30)"/>
<path d="M865.9,240.2 L712,411.12 L708.16,407.59 Z" fill="rgb(246, 172, 31)"/>
<path d="M865.9,240.2 L709.04,408.41 L705.26,404.81 Z" fill="rgb(246, 170, 31)"/>
<path d="M865.9,240.2 L706.13,405.65 L702.42,401.98 Z" fill="rgb(246, 168, 32)"/>
<path d="M865.9,240.2 L703.27,402.83 L699.62,399.1 Z" fill="rgb(245, 165, 33)"/>
<path d="M865.9,240.2 L700.45,399.97 L696.87,396.18 Z" fill="rgb(245, 163, 33)"/>
<path d="M865.9,240.2 L697.69,397.06 L694.17,393.2 Z" fill="rgb(245, 160, 34)"/>
<path d="M865.9,240.2 L694.98,394.1 L691.53,390.18 Z" fill="rgb(244, 158, 34)"/>
<path d="M865.9,240.2 L692.32,391.09 L688.94,387.12 Z" fill="rgb(244, 155, 35)"/>
<path d="M865.9,240.2 L689.71,388.04 L686.4,384.01 Z" fill="rgb(244, 153, 35)"/>
<path d="M865.9,240.2 L687.16,384.94 L683.92,380.85 Z" fill="rgb(243, 150, 36)"/>
<path d="M865.9,240.2 L684.66,381.8 L681.49,377.65 Z" fill="rgb(243, 148, 37)"/>
<path d="M865.9,240.2 L682.21,378.62 L679.12,374.41 Z" fill="rgb(243, 146, 37)"/>
<path d="M865.9,240.2 L679.83,375.39 L676.81,371.13 Z" fill="rgb(242, 143, 38)"/>
<path d="M865.9,240.2 L677.5,372.12 L674.55,367.81 Z" fill="rgb(242, 141, 38)"/>
<path d="M865.9,240.2 L675.22,368.81 L672.35,364.46 Z" fill="rgb(242, 139, 38)"/>
<path d="M865.9,240.2 L673.01,365.47 L670.21,361.06 Z" fill="rgb(241, 138, 39)"/>
<path d="M865.9,240.2 L670.85,362.08 L668.13,357.62 Z" fill="rgb(241, 136, 39)"/>
<path d="M865.9,240.2 L668.75,358.66 L666.11,354.16 Z" fill="rgb(241, 134, 39)"/>
<path d="M865.9,240.2 L666.71,355.2 L664.16,350.65 Z" fill="rgb(240, 133, 40)"/>
<path d="M865.9,240.2 L664.74,351.71 L662.26,347.11 Z" fill="rgb(240, 131, 40)"/>
<path d="M865.9,240.2 L662.82,348.18 L660.42,343.54 Z" fill="rgb(240, 129, 40)"/>
<path d="M865.9,240.2 L660.97,344.62 L658.65,339.94 Z" fill="rgb(239, 128, 41)"/>
<path d="M865.9,240.2 L659.18,341.03 L656.94,336.31 Z" fill="rgb(239, 126, 41)"/>
<path d="M865.9,240.2 L657.45,337.4 L655.3,332.65 Z" fill="rgb(239, 124, 41)"/>
<path d="M865.9,240.2 L655.78,333.75 L653.72,328.96 Z" fill="rgb(238, 123, 42)"/>
<path d="M865.9,240.2 L654.18,330.07 L652.2,325.24 Z" fill="rgb(238, 121, 42)"/>
<path d="M865.9,240.2 L652.65,326.36 L650.75,321.5 Z" fill="rgb(238, 119, 42)"/>
<path d="M865.9,240.2 L651.18,322.62 L649.36,317.73 Z" fill="rgb(237, 118, 42)"/>
<path d="M865.9,240.2 L649.77,318.86 L648.04,313.94 Z" fill="rgb(237, 116, 43)"/>
<path d="M865.9,240.2 L648.43,315.08 L646.79,310.13 Z" fill="rgb(237, 115, 43)"/>
<path d="M865.9,240.2 L647.16,311.27 L645.6,306.29 Z" fill="rgb(236, 113, 43)"/>
<path d="M865.9,240.2 L645.95,307.45 L644.48,302.44 Z" fill="rgb(236, 112, 43)"/>
<path d="M865.9,240.2 L644.81,303.6 L643.43,298.56 Z" fill="rgb(236, 110, 44)"/>
<path d="M865.9,240.2 L643.74,299.73 L642.44,294.67 Z" fill="rgb(235, 109, 44)"/>
<path d="M865.9,240.2 L642.73,295.84 L641.53,290.76 Z" fill="rgb(235, 107, 44)"/>
<path d="M865.9,240.2 L641.79,291.94 L640.68,286.84 Z" fill="rgb(234, 105, 44)"/>
<path d="M865.9,240.2 L640.93,288.02 L639.9,282.9 Z" fill="rgb(233, 103, 44)"/>
<path d="M865.9,240.2 L640.13,284.09 L639.19,278.95 Z" fill="rgb(232, 102, 45)"/>
<path d="M865.9,240.2 L639.39,280.14 L638.55,274.99 Z" fill="rgb(232, 100, 45)"/>
<path d="M865.9,240.2 L638.73,276.18 L637.97,271.02 Z" fill="rgb(231, 98, 45)"/>
<path d="M865.9,240.2 L638.14,272.21 L637.47,267.03 Z" fill="rgb(230, 96, 45)"/>
<path d="M865.9,240.2 L637.61,268.23 L637.04,263.04 Z" fill="rgb(229, 94, 45)"/>
<path d="M865.9,240.2 L637.16,264.24 L636.67,259.05 Z" fill="rgb(229, 92, 45)"/>
<path d="M865.9,240.2 L636.78,260.25 L636.38,255.04 Z" fill="rgb(228, 91, 46)"/>
<path d="M865.9,240.2 L636.46,256.24 L636.16,251.03 Z" fill="rgb(227, 89, 46)"/>
<path d="M865.9,240.2 L636.22,252.24 L636,247.02 Z" fill="rgb(226, 87, 46)"/>
<path d="M865.9,240.2 L636.04,248.23 L635.92,243.01 Z" fill="rgb(226, 85, 46)"/>
<path d="M865.9,240.2 L635.94,244.21 L635.9,239 Z" fill="rgb(225, 84, 46)"/>
<path d="M865.9,240.2 L635.9,240.2 L635.96,234.98 Z" fill="rgb(224, 82, 46)"/>
<path d="M865.9,240.2 L635.94,236.19 L636.09,230.97 Z" fill="rgb(223, 81, 47)"/>
<path d="M865.9,240.2 L636.04,232.17 L636.28,226.96 Z" fill="rgb(223, 79, 47)"/>
<path d="M865.9,240.2 L636.22,228.16 L636.55,222.95 Z" fill="rgb(222, 78, 47)"/>
<path d="M865.9,240.2 L636.46,224.16 L636.88,218.95 Z" fill="rgb(221, 77, 47)"/>
<path d="M865.9,240.2 L636.78,220.15 L637.29,214.96 Z" fill="rgb(221, 75, 47)"/>
<path d="M865.9,240.2 L637.16,216.16 L637.76,210.98 Z" fill="rgb(220, 74, 48)"/>
<path d="M865.9,240.2 L637.61,212.17 L638.31,207 Z" fill="rgb(219, 72, 48)"/>
<path d="M865.9,240.2 L638.14,208.19 L638.92,203.03 Z" fill="rgb(218, 71, 48)"/>
<path d="M865.9,240.2 L638.73,204.22 L639.61,199.08 Z" fill="rgb(218, 70, 48)"/>
<path d="M865.9,240.2 L639.39,200.26 L640.36,195.13 Z" fill="rgb(217, 68, 48)"/>
<path d="M865.9,240.2 L640.13,196.31 L641.18,191.2 Z" fill="rgb(216, 68, 48)"/>
<path d="M865.9,240.2 L640.93,192.38 L642.07,187.29 Z" fill="rgb(215, 66, 48)"/>
<path d="M865.9,240.2 L641.79,188.46 L643.03,183.39 Z" fill="rgb(215, 66, 48)"/>
<path d="M865.9,240.2 L642.73,184.56 L644.05,179.51 Z" fill="rgb(214, 64, 48)"/>
<path d="M865.9,240.2 L643.74,180.67 L645.14,175.65 Z" fill="rgb(213, 64, 48)"/>
<path d="M865.9,240.2 L644.81,176.8 L646.31,171.8 Z" fill="rgb(212, 62, 48)"/>
<path d="M865.9,240.2 L645.95,172.95 L647.53,167.98 Z" fill="rgb(212, 62, 48)"/>
<path d="M865.9,240.2 L647.16,169.13 L648.83,164.18 Z" fill="rgb(212, 62, 48)"/>
<path d="M865.9,240.2 L648.43,165.32 L650.19,160.4 Z" fill="rgb(212, 62, 48)"/>
<path d="M865.9,240.2 L649.77,161.54 L651.61,156.65 Z" fill="rgb(212, 61, 48)"/>
<path d="M865.9,240.2 L651.18,157.78 L653.1,152.93 Z" fill="rgb(212, 61, 48)"/>
<path d="M865.9,240.2 L652.65,154.04 L654.66,149.22 Z" fill="rgb(212, 61, 48)"/>
<path d="M865.9,240.2 L654.18,150.33 L656.28,145.55 Z" fill="rgb(211, 61, 48)"/>
<path d="M865.9,240.2 L655.78,146.65 L657.96,141.91 Z" fill="rgb(211, 61, 48)"/>
<path d="M865.9,240.2 L657.45,143 L659.71,138.29 Z" fill="rgb(211, 60, 48)"/>
<path d="M865.9,240.2 L659.18,139.37 L661.52,134.71 Z" fill="rgb(211, 60, 48)"/>
<path d="M865.9,240.2 L660.97,135.78 L663.39,131.16 Z" fill="rgb(211, 60, 48)"/>
<path d="M865.9,240.2 L662.82,132.22 L665.32,127.64 Z" fill="rgb(211, 60, 48)"/>
<path d="M865.9,240.2 L664.74,128.69 L667.32,124.16 Z" fill="rgb(212, 61, 48)"/>
<path d="M865.9,240.2 L666.71,125.2 L669.37,120.71 Z" fill="rgb(212, 61, 48)"/>
<path d="M865.9,240.2 L668.75,121.74 L671.49,117.3 Z" fill="rgb(212, 62, 48)"/>
<path d="M865.9,240.2 L670.85,118.32 L673.66,113.92 Z" fill="rgb(213, 62, 48)"/>
<path d="M865.9,240.2 L673.01,114.93 L675.9,110.59 Z" fill="rgb(213, 63, 48)"/>
<path d="M865.9,240.2 L675.22,111.59 L678.19,107.29 Z" fill="rgb(214, 63, 48)"/>
<path d="M865.9,240.2 L677.5,108.28 L680.54,104.04 Z" fill="rgb(214, 64, 48)"/>
<path d="M865.9,240.2 L679.83,105.01 L682.94,100.82 Z" fill="rgb(215, 64, 48)"/>
<path d="M865.9,240.2 L682.21,101.78 L685.4,97.65 Z" fill="rgb(215, 65, 48)"/>
<path d="M865.9,240.2 L684.66,98.6 L687.92,94.52 Z" fill="rgb(215, 65, 48)"/>
<path d="M865.9,240.2 L687.16,95.46 L690.49,91.44 Z" fill="rgb(216, 66, 48)"/>
<path d="M865.9,240.2 L689.71,92.36 L693.11,88.4 Z" fill="rgb(216, 67, 48)"/>
<path d="M865.9,240.2 L692.32,89.31 L695.78,85.41 Z" fill="rgb(218, 68, 48)"/>
<path d="M865.9,240.2 L694.98,86.3 L698.51,82.46 Z" fill="rgb(218, 70, 48)"/>
<path d="M865.9,240.2 L697.69,83.34 L701.29,79.56 Z" fill="rgb(220, 71, 48)"/>
<path d="M865.9,240.2 L700.45,80.43 L704.12,76.72 Z" fill="rgb(220, 72, 48)"/>
<path d="M865.9,240.2 L703.27,77.57 L707,73.92 Z" fill="rgb(222, 74, 48)"/>
<path d="M865.9,240.2 L706.13,74.75 L709.92,71.17 Z" fill="rgb(222, 75, 48)"/>
<path d="M865.9,240.2 L709.04,71.99 L712.9,68.47 Z" fill="rgb(224, 76, 48)"/>
<path d="M865.9,240.2 L712,69.28 L715.92,65.83 Z" fill="rgb(224, 78, 48)"/>
<path d="M865.9,240.2 L715.01,66.62 L718.98,63.24 Z" fill="rgb(226, 79, 48)"/>
<path d="M865.9,240.2 L718.06,64.01 L722.09,60.7 Z" fill="rgb(227, 81, 48)"/>
<path d="M865.9,240.2 L721.16,61.46 L725.25,58.22 Z" fill="rgb(228, 83, 48)"/>
<path d="M865.9,240.2 L724.3,58.96 L728.45,55.79 Z" fill="rgb(229, 85, 47)"/>
<path d="M865.9,240.2 L727.48,56.51 L731.69,53.42 Z" fill="rgb(230, 87, 47)"/>
<path d="M865.9,240.2 L730.71,54.13 L734.97,51.11 Z" fill="rgb(231, 90, 47)"/>
<path d="M865.9,240.2 L733.98,51.8 L738.29,48.85 Z" fill="rgb(232, 92, 47)"/>
<path d="M865.9,240.2 L737.29,49.52 L741.64,46.65 Z" fill="rgb(233, 94, 46)"/>
<path d="M865.9,240.2 L740.63,47.31 L745.04,44.51 Z" fill="rgb(234, 96, 46)"/>
<path d="M865.9,240.2 L744.02,45.15 L748.48,42.43 Z" fill="rgb(235, 101, 47)"/>
<path d="M865.9,240.2 L747.44,43.05 L751.94,40.41 Z" fill="rgb(236, 105, 47)"/>
<path d="M865.9,240.2 L750.9,41.01 L755.45,38.46 Z" fill="rgb(237, 110, 48)"/>
<path d="M865.9,240.2 L754.39,39.04 L758.99,36.56 Z" fill="rgb(238, 115, 49)"/>
<path d="M865.9,240.2 L757.92,37.12 L762.56,34.72 Z" fill="rgb(239, 120, 50)"/>
<path d="M865.9,240.2 L761.48,35.27 L766.16,32.95 Z" fill="rgb(240, 125, 52)"/>
<path d="M865.9,240.2 L765.07,33.48 L769.79,31.24 Z" fill="rgb(241, 132, 55)"/>
<path d="M865.9,240.2 L768.7,31.75 L773.45,29.6 Z" fill="rgb(241, 139, 58)"/>
<path d="M865.9,240.2 L772.35,30.08 L777.14,28.02 Z" fill="rgb(242, 145, 62)"/>
<path d="M865.9,240.2 L776.03,28.48 L780.86,26.5 Z" fill="rgb(242, 152, 65)"/>
<path d="M865.9,240.2 L779.74,26.95 L784.6,25.05 Z" fill="rgb(243, 159, 68)"/>
<path d="M865.9,240.2 L783.48,25.48 L788.37,23.66 Z" fill="rgb(243, 166, 73)"/>
<path d="M865.9,240.2 L787.24,24.07 L792.16,22.34 Z" fill="rgb(244, 173, 79)"/>
<path d="M865.9,240.2 L791.02,22.73 L795.97,21.09 Z" fill="rgb(244, 181, 85)"/>
<path d="M865.9,240.2 L794.83,21.46 L799.81,19.9 Z" fill="rgb(245, 189, 91)"/>
<path d="M865.9,240.2 L798.65,20.25 L803.66,18.78 Z" fill="rgb(246, 196, 97)"/>
<path d="M865.9,240.2 L802.5,19.11 L807.54,17.73 Z" fill="rgb(246, 202, 103)"/>
<path d="M865.9,240.2 L806.37,18.04 L811.43,16.74 Z" fill="rgb(247, 207, 110)"/>
<path d="M865.9,240.2 L810.26,17.03 L815.34,15.83 Z" fill="rgb(248, 212, 117)"/>
<path d="M865.9,240.2 L814.16,16.09 L819.26,14.98 Z" fill="rgb(248, 217, 124)"/>
<path d="M865.9,240.2 L818.08,15.23 L823.2,14.2 Z" fill="rgb(249, 222, 131)"/>
<path d="M865.9,240.2 L822.01,14.43 L827.15,13.49 Z" fill="rgb(249, 225, 135)"/>
<path d="M865.9,240.2 L825.96,13.69 L831.11,12.85 Z" fill="rgb(249, 226, 138)"/>
<path d="M865.9,240.2 L829.92,13.03 L835.08,12.27 Z" fill="rgb(250, 227, 141)"/>
<path d="M865.9,240.2 L833.89,12.44 L839.07,11.77 Z" fill="rgb(250, 229, 144)"/>
<path d="M865.9,240.2 L837.87,11.91 L843.06,11.34 Z" fill="rgb(250, 230, 147)"/>
<path d="M865.9,240.2 L841.86,11.46 L847.05,10.97 Z" fill="rgb(250, 231, 150)"/>
<path d="M865.9,240.2 L845.85,11.08 L851.06,10.68 Z" fill="rgb(250, 233, 153)"/>
<path d="M865.9,240.2 L849.86,10.76 L855.07,10.46 Z" fill="rgb(251, 234, 156)"/>
<path d="M865.9,240.2 L853.86,10.52 L859.08,10.3 Z" fill="rgb(251, 235, 159)"/>
<path d="M791.5,265.8 L790.15,263.82 L788.78,261.8 L787.42,259.75 L786.09,257.64 L784.81,255.49 L783.59,253.26 L782.44,250.97 L781.4,248.6 L780.45,246.05 L779.58,243.29 L778.78,240.41 L778.05,237.49 L777.38,234.63 L776.77,231.9 L776.21,229.39 L775.7,227.2 L775.26,225.42 L774.89,224.03 L774.6,222.88 L774.35,221.86 L774.14,220.83 L773.96,219.68 L773.78,218.28 L773.6,216.5 L773.42,214.33 L773.24,211.88 L773.08,209.22 L772.94,206.42 L772.82,203.53 L772.74,200.62 L772.7,197.76 L772.7,195 L772.74,192.28 L772.81,189.5 L772.91,186.7 L773.05,183.92 L773.23,181.18 L773.44,178.53 L773.7,175.99 L774,173.6 L774.35,171.41 L774.74,169.39 L775.18,167.5 L775.66,165.69 L776.17,163.9 L776.72,162.09 L777.29,160.21 L777.9,158.2 L778.54,156.07 L779.23,153.86 L779.95,151.6 L780.71,149.3 L781.48,146.99 L782.28,144.69 L783.09,142.42 L783.9,140.2 L784.72,138.01 L785.54,135.81 L786.39,133.62 L787.24,131.45 L788.12,129.31 L789.02,127.22 L789.95,125.17 L790.9,123.2" fill="none" stroke="#a82430" stroke-width="10" stroke-opacity="0.28" stroke-linecap="round"/>
</g></g></g>
<circle cx="810.5" cy="97.3" r="20.5" fill="#fff" filter="url(#blur1)"/>
<circle cx="810.5" cy="97.3" r="21.3" fill="none" stroke="#a07272" stroke-width="1.1" stroke-dasharray="3 2.2"/>
<circle cx="810.5" cy="97.3" r="5.4" fill="#e8101a"/>
<text x="834.1" y="113.6" class="sans" font-size="14.5" fill="#333" textLength="64.3" lengthAdjust="spacingAndGlyphs">Hill sphere</text>
<path d="M800.54,231.01 L800.72,230.02 L800.92,229.04 L801.13,228.06 L801.36,227.08 L801.6,226.1 L801.86,225.13 L802.13,224.17 L802.41,223.2 L802.71,222.25 L803.03,221.3 L803.36,220.35 L803.7,219.41 L804.06,218.48 L804.43,217.55 L804.81,216.63 L805.21,215.71 L805.62,214.8 L806.05,213.9 L806.49,213.01 L806.94,212.12 L807.53,211.3 L808.15,210.5 L808.78,209.72 L809.42,208.94 L810.07,208.18 L810.73,207.43 L811.4,206.7 L812.08,205.97 L812.77,205.26 L813.46,204.56 L814.17,203.88 L814.89,203.21 L815.52,202.49 L816.17,201.77 L816.82,201.06 L817.48,200.37 L818.15,199.69 L818.83,199.01 L819.52,198.35 L820.22,197.7 L820.93,197.06 L821.61,196.4 L822.3,195.75 L822.99,195.1 L823.7,194.47 L824.41,193.84 L825.14,193.23 L825.87,192.63 L826.61,192.04 L827.36,191.46 L828.12,190.89 L828.88,190.33 L829.66,189.79 L830.44,189.26 L831.23,188.74 L832.03,188.23 L832.84,187.74 L833.65,187.26 L834.47,186.79 L835.3,186.33 L836.13,185.89 L836.97,185.46 L837.82,185.04 L838.68,184.64 L839.54,184.26 L840.41,183.9 L841.28,183.54 L842.16,183.2 L843.04,182.88 L843.93,182.56 L844.82,182.26 L845.72,181.98 L846.62,181.71 L847.52,181.45 L848.42,181.2 L849.33,180.97 L850.25,180.76 L851.16,180.56 L852.08,180.37 L853,180.2 L853.92,180.04 L854.85,179.89 L855.77,179.75 L856.69,179.61 L857.62,179.49 L858.55,179.38 L859.48,179.29 L860.41,179.21 L861.34,179.14 L862.27,179.09 L863.2,179.05 L864.13,179.03 L865.07,179.02 L866,179.03 L866.93,179.05 L867.86,179.08 L868.79,179.13 L869.72,179.19 L870.65,179.27 L871.58,179.36 L872.51,179.46 L873.43,179.56 L874.36,179.67 L875.28,179.8 L876.2,179.94 L877.12,180.09 L878.04,180.26 L878.95,180.45 L879.86,180.64 L880.77,180.85 L881.68,181.08 L882.58,181.32 L883.48,181.54 L884.39,181.77 L885.29,182.02 L886.19,182.28 L887.09,182.55 L887.98,182.84 L888.87,183.14 L889.76,183.45 L890.64,183.78 L891.51,184.12 L892.38,184.47 L893.25,184.84 L894.11,185.23 L894.97,185.62 L895.82,186.03 L896.67,186.45 L897.5,186.89 L898.34,187.34 L899.16,187.8 L899.98,188.27 L900.79,188.77 L901.59,189.28 L902.38,189.8 L903.17,190.33 L903.95,190.88 L904.72,191.44 L905.48,192.01 L906.23,192.59 L906.98,193.18 L907.71,193.78 L908.44,194.4 L909.16,195.03 L909.87,195.67 L910.57,196.32 L911.25,196.98 L911.93,197.65 L912.6,198.33 L913.26,199.03 L913.91,199.73 L914.59,200.41 L915.27,201.1 L915.93,201.8 L916.58,202.51 L917.23,203.23 L917.86,203.97 L918.49,204.71 L919.1,205.47 L919.7,206.23 L920.29,207.01 L920.87,207.79 L921.44,208.59 L922,209.39 L922.55,210.21 L923.08,211.03 L923.6,211.87 L924.1,212.71 L924.58,213.57 L925.05,214.44 L925.51,215.31 L925.95,216.2 L926.38,217.09 L926.8,217.99 L927.2,218.89 L927.59,219.8 L927.97,220.72 L928.33,221.65 L928.68,222.58 L929.02,223.52 L929.34,224.47 L929.62,225.43 L929.85,226.4 L930.07,227.37 L930.27,228.35 L930.46,229.33 L930.63,230.31 L930.79,231.3 L930.93,232.28 L931.05,233.28 L931.17,234.27 L931.26,235.26 L931.35,236.26 L931.41,237.26 L931.46,238.25 L931.49,239.25 L931.48,240.25 L931.46,241.25 L931.42,242.25 L931.37,243.25 L931.3,244.25 L931.22,245.24 L931.12,246.24 L931.01,247.23 L930.88,248.22 L930.74,249.2 L930.58,250.19 L930.41,251.17 L930.22,252.15 L930.02,253.13 L929.8,254.1 L929.58,255.07 L929.34,256.04 L929.08,257 L928.81,257.96 L928.53,258.92 L928.23,259.87 L927.91,260.81 L927.59,261.75 L927.24,262.69 L926.89,263.62 L926.52,264.54 L926.13,265.46 L925.74,266.37 L925.32,267.28 L924.9,268.18 L924.45,269.07 L923.99,269.95 L923.52,270.83 L923.03,271.7 L922.54,272.56 L922.02,273.41 L921.5,274.25 L920.96,275.09 L920.41,275.92 L919.85,276.74 L919.28,277.55 L918.69,278.35 L918.09,279.14 L917.48,279.92 L916.86,280.7 L916.24,281.47 L915.6,282.23 L914.95,282.97 L914.28,283.71 L913.61,284.44 L912.93,285.16 L912.23,285.87 L911.52,286.56 L910.81,287.25 L910.08,287.92 L909.34,288.59 L908.6,289.24 L907.84,289.88 L907.08,290.51 L906.3,291.12 L905.51,291.73 L904.72,292.31 L903.91,292.89 L903.1,293.45 L902.27,294 L901.44,294.54 L900.6,295.07 L899.76,295.58 L898.9,296.08 L898.04,296.56 L897.17,297.03 L896.29,297.49 L895.41,297.94 L894.52,298.37 L893.63,298.79 L892.73,299.19 L891.82,299.58 L890.9,299.95 L889.98,300.31 L889.06,300.65 L888.13,300.98 L887.19,301.29 L886.25,301.59 L885.31,301.88 L884.36,302.15 L883.41,302.41 L882.45,302.65 L881.5,302.87 L880.53,303.09 L879.57,303.28 L878.6,303.47 L877.63,303.63 L876.66,303.8 L875.69,303.95 L874.72,304.09 L873.75,304.22 L872.77,304.33 L871.79,304.43 L870.81,304.51 L869.83,304.58 L868.85,304.63 L867.87,304.67 L866.88,304.69 L865.9,304.7" fill="none" stroke="#666" stroke-width="2.1" stroke-linecap="round" stroke-dasharray="0.8 3.9" stroke-dashoffset="0"/>
<path d="M800.54,231.01 L800.74,230.03 L800.95,229.04 L801.18,228.06 L801.42,227.09 L801.67,226.12 L801.94,225.15 L802.23,224.19 L802.53,223.24 L802.84,222.29 L803.17,221.34 L803.51,220.4 L803.87,219.47 L804.24,218.54 L804.62,217.62 L805.02,216.71 L805.43,215.8 L805.86,214.9 L806.29,214.01 L806.74,213.12 L807.21,212.25 L807.81,211.44 L808.44,210.65 L809.08,209.88 L809.73,209.12 L810.4,208.37 L811.07,207.64 L811.75,206.91 L812.44,206.2 L813.14,205.51 L813.85,204.83 L814.57,204.16 L815.29,203.5 L816.14,202.95 L817,202.42 L817.87,201.9 L818.74,201.4 L819.61,200.92 L820.49,200.46 L821.37,200.02 L822.16,199.51 L822.88,198.93 L823.6,198.37 L824.33,197.81 L825.06,197.28 L825.8,196.75 L826.55,196.23 L827.31,195.73 L828.07,195.24 L828.84,194.77 L829.61,194.3 L830.39,193.85 L831.17,193.41 L831.96,192.99 L832.75,192.58 L833.55,192.18 L834.35,191.8 L835.16,191.43 L835.97,191.07 L836.79,190.72 L837.6,190.39 L838.44,190.1 L839.3,189.86 L840.16,189.64 L841.02,189.43 L841.88,189.24 L842.75,189.06 L843.61,188.9 L844.47,188.75 L845.33,188.62 L846.19,188.5 L847.05,188.39 L847.91,188.3 L848.76,188.22 L849.62,188.16 L850.47,188.11 L851.32,188.07 L852.17,188.05 L853.01,188.04 L853.85,188.04 L854.69,188.06 L855.52,188.04 L856.34,188.03 L857.16,188.03 L857.97,188.04 L858.79,188.07 L859.6,188.11 L860.41,188.16 L861.22,188.22 L862.02,188.3 L862.82,188.39 L863.62,188.5 L864.41,188.63 L865.2,188.76 L865.98,188.91 L866.76,189.07 L867.54,189.24 L868.31,189.42 L869.07,189.61 L869.83,189.81 L870.58,190.03 L871.33,190.26 L872.07,190.49 L872.81,190.72 L873.55,190.96 L874.27,191.22 L874.99,191.48 L875.71,191.75 L876.42,192.03 L877.12,192.32 L877.82,192.61 L878.52,192.91 L879.2,193.22 L879.89,193.54 L880.56,193.87 L881.23,194.21 L881.89,194.56 L882.54,194.92 L883.19,195.29 L883.83,195.66 L884.46,196.05 L885.08,196.44 L885.7,196.85 L886.31,197.26 L886.91,197.68 L887.5,198.11 L888.09,198.55 L888.66,198.99 L889.23,199.44 L889.79,199.9 L890.34,200.37 L890.88,200.85 L891.44,201.29 L891.99,201.74 L892.54,202.19 L893.08,202.66 L893.61,203.13 L894.13,203.61 L894.64,204.09 L895.15,204.58 L895.65,205.08 L896.13,205.59 L896.61,206.1 L897.09,206.62 L897.55,207.15 L898,207.68 L898.45,208.22 L898.89,208.77 L899.31,209.32 L899.73,209.87 L900.14,210.44 L900.54,211.01 L900.92,211.58 L901.3,212.16 L901.67,212.75 L902.03,213.34 L902.37,213.93 L902.71,214.53 L903.04,215.13 L903.36,215.74 L903.67,216.35 L903.97,216.97 L904.26,217.59 L904.54,218.21 L904.81,218.83 L905.07,219.46 L905.32,220.09 L905.55,220.73 L905.75,221.38 L905.93,222.03 L906.11,222.69 L906.27,223.34 L906.43,224 L906.57,224.66 L906.71,225.32 L906.83,225.97 L906.94,226.63 L907.04,227.29 L907.14,227.95 L907.22,228.61 L907.29,229.26 L907.35,229.92 L907.4,230.58 L907.44,231.23 L907.47,231.89 L907.51,232.54 L907.55,233.19 L907.57,233.83 L907.59,234.48 L907.59,235.13 L907.58,235.77 L907.57,236.41 L907.54,237.05 L907.51,237.69 L907.46,238.33 L907.41,238.97 L907.34,239.6 L907.27,240.23 L907.18,240.86 L907.09,241.49 L906.99,242.11 L906.89,242.74 L906.79,243.36 L906.69,243.97 L906.57,244.59 L906.44,245.2 L906.31,245.81 L906.17,246.42 L906.01,247.02 L905.85,247.62 L905.68,248.22 L905.5,248.82 L905.31,249.41 L905.12,249.99 L904.91,250.58 L904.7,251.15 L904.48,251.73 L904.26,252.3 L904.02,252.87 L903.78,253.44 L903.53,254 L903.27,254.55 L903.01,255.1 L902.73,255.65 L902.45,256.19 L902.16,256.73 L901.86,257.26 L901.56,257.78 L901.25,258.3 L900.92,258.82 L900.6,259.33 L900.26,259.83 L899.92,260.33 L899.57,260.82 L899.21,261.31 L898.85,261.79 L898.49,262.27 L898.12,262.75 L897.75,263.22 L897.37,263.68 L896.99,264.14 L896.59,264.59 L896.19,265.04 L895.79,265.48 L895.38,265.91 L894.96,266.33 L894.53,266.75 L894.1,267.16 L893.67,267.57 L893.22,267.97 L892.78,268.36 L892.32,268.74 L891.86,269.12 L891.4,269.48 L890.93,269.85 L890.48,270.23 L890.01,270.6 L889.55,270.96 L889.08,271.32 L888.6,271.67 L888.12,272.01 L887.63,272.34 L887.14,272.67 L886.64,272.99 L886.14,273.3 L885.63,273.61 L885.12,273.91 L884.6,274.19 L884.08,274.48 L883.56,274.75 L883.03,275.01 L882.5,275.27 L881.96,275.52 L881.42,275.76 L880.88,275.99 L880.34,276.23 L879.8,276.48 L879.25,276.72 L878.71,276.95 L878.16,277.17 L877.6,277.38 L877.04,277.59 L876.48,277.79 L875.91,277.98 L875.34,278.16 L874.77,278.33 L874.2,278.49 L873.62,278.65 L873.04,278.79 L872.46,278.93 L871.87,279.06 L871.28,279.18 L870.69,279.29 L870.1,279.38 L869.5,279.45 L868.9,279.52 L868.3,279.57 L867.7,279.62 L867.1,279.65 L866.5,279.68 L865.9,279.7" fill="none" stroke="#666" stroke-width="2.1" stroke-linecap="round" stroke-dasharray="0.8 3.9" stroke-dashoffset="2.35"/>
<path d="M797.5,227.1 L803.2,235.5 M802.5,226.6 L796.8,235.7" stroke="#111" stroke-width="1.9"/>
<text x="813.2" y="224.6" class="serif" font-size="15.5" fill="#111" stroke="#111" stroke-width="0.45" textLength="17.6" lengthAdjust="spacingAndGlyphs">δφ</text>
<text x="831.2" y="230" class="serif" font-size="8" fill="#333" stroke="#333" stroke-width="0.3" textLength="11.2" lengthAdjust="spacingAndGlyphs">GR</text>
<path d="M847.4,217.3 L853.7,221.2 L847.4,224.5" fill="none" stroke="#111" stroke-width="1.1"/>
<path d="M848.2,228 q1.1,-1.4 2.2,-0.3 q1.1,1.1 2.2,-0.3" fill="none" stroke="#111" stroke-width="1.4"/>
<text x="860" y="225" class="serif" font-size="14" fill="#111" stroke="#111" stroke-width="0.45" textLength="19.7" lengthAdjust="spacingAndGlyphs">180</text>
<text x="880.6" y="220.7" class="serif" font-size="10" fill="#111" stroke="#111" stroke-width="0.2">°</text>
<path d="M791.3,241.4 C778,247 765,258 758.77,274.84" fill="none" stroke="#222" stroke-width="1.1"/>
<path d="M757.9,277.2 L757.2,272.46 L761.51,274.06 Z" fill="#222"/>
<text x="705.7" y="292.7" class="sans" font-size="14" fill="#222" textLength="100.8" lengthAdjust="spacingAndGlyphs">Self-intersection</text>
<text x="728.6" y="305.5" class="sans" font-size="14" fill="#222" textLength="30" lengthAdjust="spacingAndGlyphs">point</text>
<path d="M764.4,301.3 h4.4 M764.4,303.6 h4.4" stroke="#333" stroke-width="1"/>
<text x="774.5" y="304.7" class="serif" font-size="15.5" font-weight="bold" fill="#111" stroke="#111" stroke-width="0.2">r</text>
<text x="781.5" y="310.4" class="serif" font-size="9.5" fill="#111" stroke="#111" stroke-width="0.2">t</text>
<g clip-path="url(#st601e)"><g filter="url(#blurS)"><g clip-path="url(#st601)">
<path d="M865.9,601.5 L889.94,830.24 L884.75,830.73 Z" fill="rgb(255, 245, 0)"/>
<path d="M865.9,601.5 L885.95,830.62 L880.74,831.02 Z" fill="rgb(255, 245, 0)"/>
<path d="M865.9,601.5 L881.94,830.94 L876.73,831.24 Z" fill="rgb(255, 245, 0)"/>
<path d="M865.9,601.5 L877.94,831.18 L872.72,831.4 Z" fill="rgb(255, 244, 0)"/>
<path d="M865.9,601.5 L873.93,831.36 L868.71,831.48 Z" fill="rgb(255, 244, 0)"/>
<path d="M865.9,601.5 L869.91,831.46 L864.7,831.5 Z" fill="rgb(255, 244, 0)"/>
<path d="M865.9,601.5 L865.9,831.5 L860.68,831.44 Z" fill="rgb(255, 244, 0)"/>
<path d="M865.9,601.5 L861.89,831.46 L856.67,831.31 Z" fill="rgb(255, 244, 0)"/>
<path d="M865.9,601.5 L857.87,831.36 L852.66,831.12 Z" fill="rgb(255, 243, 0)"/>
<path d="M865.9,601.5 L853.86,831.18 L848.65,830.85 Z" fill="rgb(255, 243, 0)"/>
<path d="M865.9,601.5 L849.86,830.94 L844.65,830.52 Z" fill="rgb(255, 243, 0)"/>
<path d="M865.9,601.5 L845.85,830.62 L840.66,830.11 Z" fill="rgb(255, 243, 0)"/>
<path d="M865.9,601.5 L841.86,830.24 L836.68,829.64 Z" fill="rgb(255, 243, 0)"/>
<path d="M865.9,601.5 L837.87,829.79 L832.7,829.09 Z" fill="rgb(255, 242, 0)"/>
<path d="M865.9,601.5 L833.89,829.26 L828.73,828.48 Z" fill="rgb(255, 242, 0)"/>
<path d="M865.9,601.5 L829.92,828.67 L824.78,827.79 Z" fill="rgb(255, 242, 0)"/>
<path d="M865.9,601.5 L825.96,828.01 L820.83,827.04 Z" fill="rgb(255, 242, 0)"/>
<path d="M865.9,601.5 L822.01,827.27 L816.9,826.22 Z" fill="rgb(255, 240, 1)"/>
<path d="M865.9,601.5 L818.08,826.47 L812.99,825.33 Z" fill="rgb(254, 240, 2)"/>
<path d="M865.9,601.5 L814.16,825.61 L809.09,824.37 Z" fill="rgb(254, 238, 2)"/>
<path d="M865.9,601.5 L810.26,824.67 L805.21,823.35 Z" fill="rgb(254, 238, 3)"/>
<path d="M865.9,601.5 L806.37,823.66 L801.35,822.26 Z" fill="rgb(254, 236, 3)"/>
<path d="M865.9,601.5 L802.5,822.59 L797.5,821.09 Z" fill="rgb(254, 236, 4)"/>
<path d="M865.9,601.5 L798.65,821.45 L793.68,819.87 Z" fill="rgb(254, 234, 4)"/>
<path d="M865.9,601.5 L794.83,820.24 L789.88,818.57 Z" fill="rgb(253, 234, 5)"/>
<path d="M865.9,601.5 L791.02,818.97 L786.1,817.21 Z" fill="rgb(253, 232, 6)"/>
<path d="M865.9,601.5 L787.24,817.63 L782.35,815.79 Z" fill="rgb(253, 231, 7)"/>
<path d="M865.9,601.5 L783.48,816.22 L778.63,814.3 Z" fill="rgb(253, 228, 8)"/>
<path d="M865.9,601.5 L779.74,814.75 L774.92,812.74 Z" fill="rgb(252, 226, 9)"/>
<path d="M865.9,601.5 L776.03,813.22 L771.25,811.12 Z" fill="rgb(252, 224, 10)"/>
<path d="M865.9,601.5 L772.35,811.62 L767.61,809.44 Z" fill="rgb(252, 221, 11)"/>
<path d="M865.9,601.5 L768.7,809.95 L763.99,807.69 Z" fill="rgb(252, 219, 13)"/>
<path d="M865.9,601.5 L765.07,808.22 L760.41,805.88 Z" fill="rgb(252, 216, 14)"/>
<path d="M865.9,601.5 L761.48,806.43 L756.86,804.01 Z" fill="rgb(252, 214, 15)"/>
<path d="M865.9,601.5 L757.92,804.58 L753.34,802.08 Z" fill="rgb(251, 212, 16)"/>
<path d="M865.9,601.5 L754.39,802.66 L749.86,800.08 Z" fill="rgb(251, 209, 17)"/>
<path d="M865.9,601.5 L750.9,800.69 L746.41,798.03 Z" fill="rgb(251, 207, 19)"/>
<path d="M865.9,601.5 L747.44,798.65 L743,795.91 Z" fill="rgb(250, 204, 20)"/>
<path d="M865.9,601.5 L744.02,796.55 L739.62,793.74 Z" fill="rgb(250, 201, 21)"/>
<path d="M865.9,601.5 L740.63,794.39 L736.29,791.5 Z" fill="rgb(250, 198, 22)"/>
<path d="M865.9,601.5 L737.29,792.18 L732.99,789.21 Z" fill="rgb(249, 195, 23)"/>
<path d="M865.9,601.5 L733.98,789.9 L729.74,786.86 Z" fill="rgb(249, 192, 24)"/>
<path d="M865.9,601.5 L730.71,787.57 L726.52,784.46 Z" fill="rgb(249, 189, 25)"/>
<path d="M865.9,601.5 L727.48,785.19 L723.35,782 Z" fill="rgb(248, 186, 26)"/>
<path d="M865.9,601.5 L724.3,782.74 L720.22,779.48 Z" fill="rgb(248, 183, 27)"/>
<path d="M865.9,601.5 L721.16,780.24 L717.14,776.91 Z" fill="rgb(248, 180, 28)"/>
<path d="M865.9,601.5 L718.06,777.69 L714.1,774.29 Z" fill="rgb(247, 177, 29)"/>
<path d="M865.9,601.5 L715.01,775.08 L711.11,771.62 Z" fill="rgb(247, 175, 30)"/>
<path d="M865.9,601.5 L712,772.42 L708.16,768.89 Z" fill="rgb(246, 172, 31)"/>
<path d="M865.9,601.5 L709.04,769.71 L705.26,766.11 Z" fill="rgb(246, 170, 31)"/>
<path d="M865.9,601.5 L706.13,766.95 L702.42,763.28 Z" fill="rgb(246, 168, 32)"/>
<path d="M865.9,601.5 L703.27,764.13 L699.62,760.4 Z" fill="rgb(245, 165, 33)"/>
<path d="M865.9,601.5 L700.45,761.27 L696.87,757.48 Z" fill="rgb(245, 163, 33)"/>
<path d="M865.9,601.5 L697.69,758.36 L694.17,754.5 Z" fill="rgb(245, 160, 34)"/>
<path d="M865.9,601.5 L694.98,755.4 L691.53,751.48 Z" fill="rgb(244, 158, 34)"/>
<path d="M865.9,601.5 L692.32,752.39 L688.94,748.42 Z" fill="rgb(244, 155, 35)"/>
<path d="M865.9,601.5 L689.71,749.34 L686.4,745.31 Z" fill="rgb(244, 153, 35)"/>
<path d="M865.9,601.5 L687.16,746.24 L683.92,742.15 Z" fill="rgb(243, 150, 36)"/>
<path d="M865.9,601.5 L684.66,743.1 L681.49,738.95 Z" fill="rgb(243, 148, 37)"/>
<path d="M865.9,601.5 L682.21,739.92 L679.12,735.71 Z" fill="rgb(243, 146, 37)"/>
<path d="M865.9,601.5 L679.83,736.69 L676.81,732.43 Z" fill="rgb(242, 143, 38)"/>
<path d="M865.9,601.5 L677.5,733.42 L674.55,729.11 Z" fill="rgb(242, 141, 38)"/>
<path d="M865.9,601.5 L675.22,730.11 L672.35,725.76 Z" fill="rgb(242, 139, 38)"/>
<path d="M865.9,601.5 L673.01,726.77 L670.21,722.36 Z" fill="rgb(241, 138, 39)"/>
<path d="M865.9,601.5 L670.85,723.38 L668.13,718.92 Z" fill="rgb(241, 136, 39)"/>
<path d="M865.9,601.5 L668.75,719.96 L666.11,715.46 Z" fill="rgb(241, 134, 39)"/>
<path d="M865.9,601.5 L666.71,716.5 L664.16,711.95 Z" fill="rgb(240, 133, 40)"/>
<path d="M865.9,601.5 L664.74,713.01 L662.26,708.41 Z" fill="rgb(240, 131, 40)"/>
<path d="M865.9,601.5 L662.82,709.48 L660.42,704.84 Z" fill="rgb(240, 129, 40)"/>
<path d="M865.9,601.5 L660.97,705.92 L658.65,701.24 Z" fill="rgb(239, 128, 41)"/>
<path d="M865.9,601.5 L659.18,702.33 L656.94,697.61 Z" fill="rgb(239, 126, 41)"/>
<path d="M865.9,601.5 L657.45,698.7 L655.3,693.95 Z" fill="rgb(239, 124, 41)"/>
<path d="M865.9,601.5 L655.78,695.05 L653.72,690.26 Z" fill="rgb(238, 123, 42)"/>
<path d="M865.9,601.5 L654.18,691.37 L652.2,686.54 Z" fill="rgb(238, 121, 42)"/>
<path d="M865.9,601.5 L652.65,687.66 L650.75,682.8 Z" fill="rgb(238, 119, 42)"/>
<path d="M865.9,601.5 L651.18,683.92 L649.36,679.03 Z" fill="rgb(237, 118, 42)"/>
<path d="M865.9,601.5 L649.77,680.16 L648.04,675.24 Z" fill="rgb(237, 116, 43)"/>
<path d="M865.9,601.5 L648.43,676.38 L646.79,671.43 Z" fill="rgb(237, 115, 43)"/>
<path d="M865.9,601.5 L647.16,672.57 L645.6,667.59 Z" fill="rgb(236, 113, 43)"/>
<path d="M865.9,601.5 L645.95,668.75 L644.48,663.74 Z" fill="rgb(236, 112, 43)"/>
<path d="M865.9,601.5 L644.81,664.9 L643.43,659.86 Z" fill="rgb(236, 110, 44)"/>
<path d="M865.9,601.5 L643.74,661.03 L642.44,655.97 Z" fill="rgb(235, 109, 44)"/>
<path d="M865.9,601.5 L642.73,657.14 L641.53,652.06 Z" fill="rgb(235, 107, 44)"/>
<path d="M865.9,601.5 L641.79,653.24 L640.68,648.14 Z" fill="rgb(234, 105, 44)"/>
<path d="M865.9,601.5 L640.93,649.32 L639.9,644.2 Z" fill="rgb(233, 103, 44)"/>
<path d="M865.9,601.5 L640.13,645.39 L639.19,640.25 Z" fill="rgb(232, 102, 45)"/>
<path d="M865.9,601.5 L639.39,641.44 L638.55,636.29 Z" fill="rgb(232, 100, 45)"/>
<path d="M865.9,601.5 L638.73,637.48 L637.97,632.32 Z" fill="rgb(231, 98, 45)"/>
<path d="M865.9,601.5 L638.14,633.51 L637.47,628.33 Z" fill="rgb(230, 96, 45)"/>
<path d="M865.9,601.5 L637.61,629.53 L637.04,624.34 Z" fill="rgb(229, 94, 45)"/>
<path d="M865.9,601.5 L637.16,625.54 L636.67,620.35 Z" fill="rgb(229, 92, 45)"/>
<path d="M865.9,601.5 L636.78,621.55 L636.38,616.34 Z" fill="rgb(228, 91, 46)"/>
<path d="M865.9,601.5 L636.46,617.54 L636.16,612.33 Z" fill="rgb(227, 89, 46)"/>
<path d="M865.9,601.5 L636.22,613.54 L636,608.32 Z" fill="rgb(226, 87, 46)"/>
<path d="M865.9,601.5 L636.04,609.53 L635.92,604.31 Z" fill="rgb(226, 85, 46)"/>
<path d="M865.9,601.5 L635.94,605.51 L635.9,600.3 Z" fill="rgb(225, 84, 46)"/>
<path d="M865.9,601.5 L635.9,601.5 L635.96,596.28 Z" fill="rgb(224, 82, 46)"/>
<path d="M865.9,601.5 L635.94,597.49 L636.09,592.27 Z" fill="rgb(223, 81, 47)"/>
<path d="M865.9,601.5 L636.04,593.47 L636.28,588.26 Z" fill="rgb(223, 79, 47)"/>
<path d="M865.9,601.5 L636.22,589.46 L636.55,584.25 Z" fill="rgb(222, 78, 47)"/>
<path d="M865.9,601.5 L636.46,585.46 L636.88,580.25 Z" fill="rgb(221, 77, 47)"/>
<path d="M865.9,601.5 L636.78,581.45 L637.29,576.26 Z" fill="rgb(221, 75, 47)"/>
<path d="M865.9,601.5 L637.16,577.46 L637.76,572.28 Z" fill="rgb(220, 74, 48)"/>
<path d="M865.9,601.5 L637.61,573.47 L638.31,568.3 Z" fill="rgb(219, 72, 48)"/>
<path d="M865.9,601.5 L638.14,569.49 L638.92,564.33 Z" fill="rgb(218, 71, 48)"/>
<path d="M865.9,601.5 L638.73,565.52 L639.61,560.38 Z" fill="rgb(218, 70, 48)"/>
<path d="M865.9,601.5 L639.39,561.56 L640.36,556.43 Z" fill="rgb(217, 68, 48)"/>
<path d="M865.9,601.5 L640.13,557.61 L641.18,552.5 Z" fill="rgb(216, 68, 48)"/>
<path d="M865.9,601.5 L640.93,553.68 L642.07,548.59 Z" fill="rgb(215, 66, 48)"/>
<path d="M865.9,601.5 L641.79,549.76 L643.03,544.69 Z" fill="rgb(215, 66, 48)"/>
<path d="M865.9,601.5 L642.73,545.86 L644.05,540.81 Z" fill="rgb(214, 64, 48)"/>
<path d="M865.9,601.5 L643.74,541.97 L645.14,536.95 Z" fill="rgb(213, 64, 48)"/>
<path d="M865.9,601.5 L644.81,538.1 L646.31,533.1 Z" fill="rgb(212, 62, 48)"/>
<path d="M865.9,601.5 L645.95,534.25 L647.53,529.28 Z" fill="rgb(212, 62, 48)"/>
<path d="M865.9,601.5 L647.16,530.43 L648.83,525.48 Z" fill="rgb(212, 62, 48)"/>
<path d="M865.9,601.5 L648.43,526.62 L650.19,521.7 Z" fill="rgb(212, 62, 48)"/>
<path d="M865.9,601.5 L649.77,522.84 L651.61,517.95 Z" fill="rgb(212, 61, 48)"/>
<path d="M865.9,601.5 L651.18,519.08 L653.1,514.23 Z" fill="rgb(212, 61, 48)"/>
<path d="M865.9,601.5 L652.65,515.34 L654.66,510.52 Z" fill="rgb(212, 61, 48)"/>
<path d="M865.9,601.5 L654.18,511.63 L656.28,506.85 Z" fill="rgb(211, 61, 48)"/>
<path d="M865.9,601.5 L655.78,507.95 L657.96,503.21 Z" fill="rgb(211, 61, 48)"/>
<path d="M865.9,601.5 L657.45,504.3 L659.71,499.59 Z" fill="rgb(211, 60, 48)"/>
<path d="M865.9,601.5 L659.18,500.67 L661.52,496.01 Z" fill="rgb(211, 60, 48)"/>
<path d="M865.9,601.5 L660.97,497.08 L663.39,492.46 Z" fill="rgb(211, 60, 48)"/>
<path d="M865.9,601.5 L662.82,493.52 L665.32,488.94 Z" fill="rgb(211, 60, 48)"/>
<path d="M865.9,601.5 L664.74,489.99 L667.32,485.46 Z" fill="rgb(212, 61, 48)"/>
<path d="M865.9,601.5 L666.71,486.5 L669.37,482.01 Z" fill="rgb(212, 61, 48)"/>
<path d="M865.9,601.5 L668.75,483.04 L671.49,478.6 Z" fill="rgb(212, 62, 48)"/>
<path d="M865.9,601.5 L670.85,479.62 L673.66,475.22 Z" fill="rgb(213, 62, 48)"/>
<path d="M865.9,601.5 L673.01,476.23 L675.9,471.89 Z" fill="rgb(213, 63, 48)"/>
<path d="M865.9,601.5 L675.22,472.89 L678.19,468.59 Z" fill="rgb(214, 63, 48)"/>
<path d="M865.9,601.5 L677.5,469.58 L680.54,465.34 Z" fill="rgb(214, 64, 48)"/>
<path d="M865.9,601.5 L679.83,466.31 L682.94,462.12 Z" fill="rgb(215, 64, 48)"/>
<path d="M865.9,601.5 L682.21,463.08 L685.4,458.95 Z" fill="rgb(215, 65, 48)"/>
<path d="M865.9,601.5 L684.66,459.9 L687.92,455.82 Z" fill="rgb(215, 65, 48)"/>
<path d="M865.9,601.5 L687.16,456.76 L690.49,452.74 Z" fill="rgb(216, 66, 48)"/>
<path d="M865.9,601.5 L689.71,453.66 L693.11,449.7 Z" fill="rgb(216, 67, 48)"/>
<path d="M865.9,601.5 L692.32,450.61 L695.78,446.71 Z" fill="rgb(218, 68, 48)"/>
<path d="M865.9,601.5 L694.98,447.6 L698.51,443.76 Z" fill="rgb(218, 70, 48)"/>
<path d="M865.9,601.5 L697.69,444.64 L701.29,440.86 Z" fill="rgb(220, 71, 48)"/>
<path d="M865.9,601.5 L700.45,441.73 L704.12,438.02 Z" fill="rgb(220, 72, 48)"/>
<path d="M865.9,601.5 L703.27,438.87 L707,435.22 Z" fill="rgb(222, 74, 48)"/>
<path d="M865.9,601.5 L706.13,436.05 L709.92,432.47 Z" fill="rgb(222, 75, 48)"/>
<path d="M865.9,601.5 L709.04,433.29 L712.9,429.77 Z" fill="rgb(224, 76, 48)"/>
<path d="M865.9,601.5 L712,430.58 L715.92,427.13 Z" fill="rgb(224, 78, 48)"/>
<path d="M865.9,601.5 L715.01,427.92 L718.98,424.54 Z" fill="rgb(226, 79, 48)"/>
<path d="M865.9,601.5 L718.06,425.31 L722.09,422 Z" fill="rgb(227, 81, 48)"/>
<path d="M865.9,601.5 L721.16,422.76 L725.25,419.52 Z" fill="rgb(228, 83, 48)"/>
<path d="M865.9,601.5 L724.3,420.26 L728.45,417.09 Z" fill="rgb(229, 85, 47)"/>
<path d="M865.9,601.5 L727.48,417.81 L731.69,414.72 Z" fill="rgb(230, 87, 47)"/>
<path d="M865.9,601.5 L730.71,415.43 L734.97,412.41 Z" fill="rgb(231, 90, 47)"/>
<path d="M865.9,601.5 L733.98,413.1 L738.29,410.15 Z" fill="rgb(232, 92, 47)"/>
<path d="M865.9,601.5 L737.29,410.82 L741.64,407.95 Z" fill="rgb(233, 94, 46)"/>
<path d="M865.9,601.5 L740.63,408.61 L745.04,405.81 Z" fill="rgb(234, 96, 46)"/>
<path d="M865.9,601.5 L744.02,406.45 L748.48,403.73 Z" fill="rgb(235, 101, 47)"/>
<path d="M865.9,601.5 L747.44,404.35 L751.94,401.71 Z" fill="rgb(236, 105, 47)"/>
<path d="M865.9,601.5 L750.9,402.31 L755.45,399.76 Z" fill="rgb(237, 110, 48)"/>
<path d="M865.9,601.5 L754.39,400.34 L758.99,397.86 Z" fill="rgb(238, 115, 49)"/>
<path d="M865.9,601.5 L757.92,398.42 L762.56,396.02 Z" fill="rgb(239, 120, 50)"/>
<path d="M865.9,601.5 L761.48,396.57 L766.16,394.25 Z" fill="rgb(240, 125, 52)"/>
<path d="M865.9,601.5 L765.07,394.78 L769.79,392.54 Z" fill="rgb(241, 132, 55)"/>
<path d="M865.9,601.5 L768.7,393.05 L773.45,390.9 Z" fill="rgb(241, 139, 58)"/>
<path d="M865.9,601.5 L772.35,391.38 L777.14,389.32 Z" fill="rgb(242, 145, 62)"/>
<path d="M865.9,601.5 L776.03,389.78 L780.86,387.8 Z" fill="rgb(242, 152, 65)"/>
<path d="M865.9,601.5 L779.74,388.25 L784.6,386.35 Z" fill="rgb(243, 159, 68)"/>
<path d="M865.9,601.5 L783.48,386.78 L788.37,384.96 Z" fill="rgb(243, 166, 73)"/>
<path d="M865.9,601.5 L787.24,385.37 L792.16,383.64 Z" fill="rgb(244, 173, 79)"/>
<path d="M865.9,601.5 L791.02,384.03 L795.97,382.39 Z" fill="rgb(244, 181, 85)"/>
<path d="M865.9,601.5 L794.83,382.76 L799.81,381.2 Z" fill="rgb(245, 189, 91)"/>
<path d="M865.9,601.5 L798.65,381.55 L803.66,380.08 Z" fill="rgb(246, 196, 97)"/>
<path d="M865.9,601.5 L802.5,380.41 L807.54,379.03 Z" fill="rgb(246, 202, 103)"/>
<path d="M865.9,601.5 L806.37,379.34 L811.43,378.04 Z" fill="rgb(247, 207, 110)"/>
<path d="M865.9,601.5 L810.26,378.33 L815.34,377.13 Z" fill="rgb(248, 212, 117)"/>
<path d="M865.9,601.5 L814.16,377.39 L819.26,376.28 Z" fill="rgb(248, 217, 124)"/>
<path d="M865.9,601.5 L818.08,376.53 L823.2,375.5 Z" fill="rgb(249, 222, 131)"/>
<path d="M865.9,601.5 L822.01,375.73 L827.15,374.79 Z" fill="rgb(249, 225, 135)"/>
<path d="M865.9,601.5 L825.96,374.99 L831.11,374.15 Z" fill="rgb(249, 226, 138)"/>
<path d="M865.9,601.5 L829.92,374.33 L835.08,373.57 Z" fill="rgb(250, 227, 141)"/>
<path d="M865.9,601.5 L833.89,373.74 L839.07,373.07 Z" fill="rgb(250, 229, 144)"/>
<path d="M865.9,601.5 L837.87,373.21 L843.06,372.64 Z" fill="rgb(250, 230, 147)"/>
<path d="M865.9,601.5 L841.86,372.76 L847.05,372.27 Z" fill="rgb(250, 231, 150)"/>
<path d="M865.9,601.5 L845.85,372.38 L851.06,371.98 Z" fill="rgb(250, 233, 153)"/>
<path d="M865.9,601.5 L849.86,372.06 L855.07,371.76 Z" fill="rgb(251, 234, 156)"/>
<path d="M865.9,601.5 L853.86,371.82 L859.08,371.6 Z" fill="rgb(251, 235, 159)"/>
<path d="M791.5,627.1 L790.15,625.12 L788.78,623.1 L787.42,621.05 L786.09,618.94 L784.81,616.79 L783.59,614.56 L782.44,612.27 L781.4,609.9 L780.45,607.35 L779.58,604.59 L778.78,601.71 L778.05,598.79 L777.38,595.93 L776.77,593.2 L776.21,590.69 L775.7,588.5 L775.26,586.72 L774.89,585.33 L774.6,584.18 L774.35,583.16 L774.14,582.13 L773.96,580.98 L773.78,579.58 L773.6,577.8 L773.42,575.63 L773.24,573.18 L773.08,570.52 L772.94,567.72 L772.82,564.83 L772.74,561.92 L772.7,559.06 L772.7,556.3 L772.74,553.58 L772.81,550.8 L772.91,548 L773.05,545.22 L773.23,542.48 L773.44,539.83 L773.7,537.29 L774,534.9 L774.35,532.71 L774.74,530.69 L775.18,528.8 L775.66,526.99 L776.17,525.2 L776.72,523.39 L777.29,521.51 L777.9,519.5 L778.54,517.37 L779.23,515.16 L779.95,512.9 L780.71,510.6 L781.48,508.29 L782.28,505.99 L783.09,503.72 L783.9,501.5 L784.72,499.31 L785.54,497.11 L786.39,494.92 L787.24,492.75 L788.12,490.61 L789.02,488.52 L789.95,486.47 L790.9,484.5" fill="none" stroke="#a82430" stroke-width="10" stroke-opacity="0.28" stroke-linecap="round"/>
</g></g></g>
<path d="M800.54,592.31 L800.72,591.32 L800.92,590.34 L801.13,589.36 L801.36,588.38 L801.6,587.4 L801.86,586.43 L802.13,585.47 L802.41,584.5 L802.71,583.55 L803.03,582.6 L803.36,581.65 L803.7,580.71 L804.06,579.78 L804.43,578.85 L804.81,577.93 L805.21,577.01 L805.62,576.1 L806.05,575.2 L806.49,574.31 L806.94,573.42 L807.53,572.6 L808.15,571.8 L808.78,571.02 L809.42,570.24 L810.07,569.48 L810.73,568.73 L811.4,568 L812.08,567.27 L812.77,566.56 L813.46,565.86 L814.17,565.18 L814.89,564.51 L815.52,563.79 L816.17,563.07 L816.82,562.36 L817.48,561.67 L818.15,560.99 L818.83,560.31 L819.52,559.65 L820.22,559 L820.93,558.36 L821.61,557.7 L822.3,557.05 L822.99,556.4 L823.7,555.77 L824.41,555.14 L825.14,554.53 L825.87,553.93 L826.61,553.34 L827.36,552.76 L828.12,552.19 L828.88,551.63 L829.66,551.09 L830.44,550.56 L831.23,550.04 L832.03,549.53 L832.84,549.04 L833.65,548.56 L834.47,548.09 L835.3,547.63 L836.13,547.19 L836.97,546.76 L837.82,546.34 L838.68,545.94 L839.54,545.56 L840.41,545.2 L841.28,544.84 L842.16,544.5 L843.04,544.18 L843.93,543.86 L844.82,543.56 L845.72,543.28 L846.62,543.01 L847.52,542.75 L848.42,542.5 L849.33,542.27 L850.25,542.06 L851.16,541.86 L852.08,541.67 L853,541.5 L853.92,541.34 L854.85,541.19 L855.77,541.05 L856.69,540.91 L857.62,540.79 L858.55,540.68 L859.48,540.59 L860.41,540.51 L861.34,540.44 L862.27,540.39 L863.2,540.35 L864.13,540.33 L865.07,540.32 L866,540.33 L866.93,540.35 L867.86,540.38 L868.79,540.43 L869.72,540.49 L870.65,540.57 L871.58,540.66 L872.51,540.76 L873.43,540.86 L874.36,540.97 L875.28,541.1 L876.2,541.24 L877.12,541.39 L878.04,541.56 L878.95,541.75 L879.86,541.94 L880.77,542.15 L881.68,542.38 L882.58,542.62 L883.48,542.84 L884.39,543.07 L885.29,543.32 L886.19,543.58 L887.09,543.85 L887.98,544.14 L888.87,544.44 L889.76,544.75 L890.64,545.08 L891.51,545.42 L892.38,545.77 L893.25,546.14 L894.11,546.53 L894.97,546.92 L895.82,547.33 L896.67,547.75 L897.5,548.19 L898.34,548.64 L899.16,549.1 L899.98,549.57 L900.79,550.07 L901.59,550.58 L902.38,551.1 L903.17,551.63 L903.95,552.18 L904.72,552.74 L905.48,553.31 L906.23,553.89 L906.98,554.48 L907.71,555.08 L908.44,555.7 L909.16,556.33 L909.87,556.97 L910.57,557.62 L911.25,558.28 L911.93,558.95 L912.6,559.63 L913.26,560.33 L913.91,561.03 L914.59,561.71 L915.27,562.4 L915.93,563.1 L916.58,563.81 L917.23,564.53 L917.86,565.27 L918.49,566.01 L919.1,566.77 L919.7,567.53 L920.29,568.31 L920.87,569.09 L921.44,569.89 L922,570.69 L922.55,571.51 L923.08,572.33 L923.6,573.17 L924.1,574.01 L924.58,574.87 L925.05,575.74 L925.51,576.61 L925.95,577.5 L926.38,578.39 L926.8,579.29 L927.2,580.19 L927.59,581.1 L927.97,582.02 L928.33,582.95 L928.68,583.88 L929.02,584.82 L929.34,585.77 L929.62,586.73 L929.85,587.7 L930.07,588.67 L930.27,589.65 L930.46,590.63 L930.63,591.61 L930.79,592.6 L930.93,593.58 L931.05,594.58 L931.17,595.57 L931.26,596.56 L931.35,597.56 L931.41,598.56 L931.46,599.55 L931.49,600.55 L931.48,601.55 L931.46,602.55 L931.42,603.55 L931.37,604.55 L931.3,605.55 L931.22,606.54 L931.12,607.54 L931.01,608.53 L930.88,609.52 L930.74,610.5 L930.58,611.49 L930.41,612.47 L930.22,613.45 L930.02,614.43 L929.8,615.4 L929.58,616.37 L929.34,617.34 L929.08,618.3 L928.81,619.26 L928.53,620.22 L928.23,621.17 L927.91,622.11 L927.59,623.05 L927.24,623.99 L926.89,624.92 L926.52,625.84 L926.13,626.76 L925.74,627.67 L925.32,628.58 L924.9,629.48 L924.45,630.37 L923.99,631.25 L923.52,632.13 L923.03,633 L922.54,633.86 L922.02,634.71 L921.5,635.55 L920.96,636.39 L920.41,637.22 L919.85,638.04 L919.28,638.85 L918.69,639.65 L918.09,640.44 L917.48,641.22 L916.86,642 L916.24,642.77 L915.6,643.53 L914.95,644.27 L914.28,645.01 L913.61,645.74 L912.93,646.46 L912.23,647.17 L911.52,647.86 L910.81,648.55 L910.08,649.22 L909.34,649.89 L908.6,650.54 L907.84,651.18 L907.08,651.81 L906.3,652.42 L905.51,653.03 L904.72,653.61 L903.91,654.19 L903.1,654.75 L902.27,655.3 L901.44,655.84 L900.6,656.37 L899.76,656.88 L898.9,657.38 L898.04,657.86 L897.17,658.33 L896.29,658.79 L895.41,659.24 L894.52,659.67 L893.63,660.09 L892.73,660.49 L891.82,660.88 L890.9,661.25 L889.98,661.61 L889.06,661.95 L888.13,662.28 L887.19,662.59 L886.25,662.89 L885.31,663.18 L884.36,663.45 L883.41,663.71 L882.45,663.95 L881.5,664.17 L880.53,664.39 L879.57,664.58 L878.6,664.77 L877.63,664.93 L876.66,665.1 L875.69,665.25 L874.72,665.39 L873.75,665.52 L872.77,665.63 L871.79,665.73 L870.81,665.81 L869.83,665.88 L868.85,665.93 L867.87,665.97 L866.88,665.99 L865.9,666" fill="none" stroke="#666" stroke-width="2.1" stroke-linecap="round" stroke-dasharray="0.8 3.9" stroke-dashoffset="0"/>
<path d="M800.54,592.31 L800.74,591.33 L800.95,590.34 L801.18,589.36 L801.42,588.39 L801.67,587.42 L801.94,586.45 L802.23,585.49 L802.53,584.54 L802.84,583.59 L803.17,582.64 L803.51,581.7 L803.87,580.77 L804.24,579.84 L804.62,578.92 L805.02,578.01 L805.43,577.1 L805.86,576.2 L806.29,575.31 L806.74,574.42 L807.21,573.55 L807.81,572.74 L808.44,571.95 L809.08,571.18 L809.73,570.42 L810.4,569.67 L811.07,568.94 L811.75,568.21 L812.44,567.5 L813.14,566.81 L813.85,566.13 L814.57,565.46 L815.29,564.8 L816.14,564.25 L817,563.72 L817.87,563.2 L818.74,562.7 L819.61,562.22 L820.49,561.76 L821.37,561.32 L822.16,560.81 L822.88,560.23 L823.6,559.67 L824.33,559.11 L825.06,558.58 L825.8,558.05 L826.55,557.53 L827.31,557.03 L828.07,556.54 L828.84,556.07 L829.61,555.6 L830.39,555.15 L831.17,554.71 L831.96,554.29 L832.75,553.88 L833.55,553.48 L834.35,553.1 L835.16,552.73 L835.97,552.37 L836.79,552.02 L837.6,551.69 L838.44,551.4 L839.3,551.16 L840.16,550.94 L841.02,550.73 L841.88,550.54 L842.75,550.36 L843.61,550.2 L844.47,550.05 L845.33,549.92 L846.19,549.8 L847.05,549.69 L847.91,549.6 L848.76,549.52 L849.62,549.46 L850.47,549.41 L851.32,549.37 L852.17,549.35 L853.01,549.34 L853.85,549.34 L854.69,549.36 L855.52,549.34 L856.34,549.33 L857.16,549.33 L857.97,549.34 L858.79,549.37 L859.6,549.41 L860.41,549.46 L861.22,549.52 L862.02,549.6 L862.82,549.69 L863.62,549.8 L864.41,549.93 L865.2,550.06 L865.98,550.21 L866.76,550.37 L867.54,550.54 L868.31,550.72 L869.07,550.91 L869.83,551.11 L870.58,551.33 L871.33,551.56 L872.07,551.79 L872.81,552.02 L873.55,552.26 L874.27,552.52 L874.99,552.78 L875.71,553.05 L876.42,553.33 L877.12,553.62 L877.82,553.91 L878.52,554.21 L879.2,554.52 L879.89,554.84 L880.56,555.17 L881.23,555.51 L881.89,555.86 L882.54,556.22 L883.19,556.59 L883.83,556.96 L884.46,557.35 L885.08,557.74 L885.7,558.15 L886.31,558.56 L886.91,558.98 L887.5,559.41 L888.09,559.85 L888.66,560.29 L889.23,560.74 L889.79,561.2 L890.34,561.67 L890.88,562.15 L891.44,562.59 L891.99,563.04 L892.54,563.49 L893.08,563.96 L893.61,564.43 L894.13,564.91 L894.64,565.39 L895.15,565.88 L895.65,566.38 L896.13,566.89 L896.61,567.4 L897.09,567.92 L897.55,568.45 L898,568.98 L898.45,569.52 L898.89,570.07 L899.31,570.62 L899.73,571.17 L900.14,571.74 L900.54,572.31 L900.92,572.88 L901.3,573.46 L901.67,574.05 L902.03,574.64 L902.37,575.23 L902.71,575.83 L903.04,576.43 L903.36,577.04 L903.67,577.65 L903.97,578.27 L904.26,578.89 L904.54,579.51 L904.81,580.13 L905.07,580.76 L905.32,581.39 L905.55,582.03 L905.75,582.68 L905.93,583.33 L906.11,583.99 L906.27,584.64 L906.43,585.3 L906.57,585.96 L906.71,586.62 L906.83,587.27 L906.94,587.93 L907.04,588.59 L907.14,589.25 L907.22,589.91 L907.29,590.56 L907.35,591.22 L907.4,591.88 L907.44,592.53 L907.47,593.19 L907.51,593.84 L907.55,594.49 L907.57,595.13 L907.59,595.78 L907.59,596.43 L907.58,597.07 L907.57,597.71 L907.54,598.35 L907.51,598.99 L907.46,599.63 L907.41,600.27 L907.34,600.9 L907.27,601.53 L907.18,602.16 L907.09,602.79 L906.99,603.41 L906.89,604.04 L906.79,604.66 L906.69,605.27 L906.57,605.89 L906.44,606.5 L906.31,607.11 L906.17,607.72 L906.01,608.32 L905.85,608.92 L905.68,609.52 L905.5,610.12 L905.31,610.71 L905.12,611.29 L904.91,611.88 L904.7,612.45 L904.48,613.03 L904.26,613.6 L904.02,614.17 L903.78,614.74 L903.53,615.3 L903.27,615.85 L903.01,616.4 L902.73,616.95 L902.45,617.49 L902.16,618.03 L901.86,618.56 L901.56,619.08 L901.25,619.6 L900.92,620.12 L900.6,620.63 L900.26,621.13 L899.92,621.63 L899.57,622.12 L899.21,622.61 L898.85,623.09 L898.49,623.57 L898.12,624.05 L897.75,624.52 L897.37,624.98 L896.99,625.44 L896.59,625.89 L896.19,626.34 L895.79,626.78 L895.38,627.21 L894.96,627.63 L894.53,628.05 L894.1,628.46 L893.67,628.87 L893.22,629.27 L892.78,629.66 L892.32,630.04 L891.86,630.42 L891.4,630.78 L890.93,631.15 L890.48,631.53 L890.01,631.9 L889.55,632.26 L889.08,632.62 L888.6,632.97 L888.12,633.31 L887.63,633.64 L887.14,633.97 L886.64,634.29 L886.14,634.6 L885.63,634.91 L885.12,635.21 L884.6,635.49 L884.08,635.78 L883.56,636.05 L883.03,636.31 L882.5,636.57 L881.96,636.82 L881.42,637.06 L880.88,637.29 L880.34,637.53 L879.8,637.78 L879.25,638.02 L878.71,638.25 L878.16,638.47 L877.6,638.68 L877.04,638.89 L876.48,639.09 L875.91,639.28 L875.34,639.46 L874.77,639.63 L874.2,639.79 L873.62,639.95 L873.04,640.09 L872.46,640.23 L871.87,640.36 L871.28,640.48 L870.69,640.59 L870.1,640.68 L869.5,640.75 L868.9,640.82 L868.3,640.87 L867.7,640.92 L867.1,640.95 L866.5,640.98 L865.9,641" fill="none" stroke="#666" stroke-width="2.1" stroke-linecap="round" stroke-dasharray="0.8 3.9" stroke-dashoffset="2.35"/>
<path d="M797.5,588.4 L803.2,596.8 M802.5,587.9 L796.8,597" stroke="#111" stroke-width="1.9"/>
<text x="813.2" y="585.9" class="serif" font-size="15.5" fill="#111" stroke="#111" stroke-width="0.45" textLength="17.6" lengthAdjust="spacingAndGlyphs">δφ</text>
<text x="831.2" y="591.3" class="serif" font-size="8" fill="#333" stroke="#333" stroke-width="0.3" textLength="11.2" lengthAdjust="spacingAndGlyphs">GR</text>
<path d="M847.4,578.6 L853.7,582.5 L847.4,585.8" fill="none" stroke="#111" stroke-width="1.1"/>
<path d="M848.2,589.3 q1.1,-1.4 2.2,-0.3 q1.1,1.1 2.2,-0.3" fill="none" stroke="#111" stroke-width="1.4"/>
<text x="860" y="586.3" class="serif" font-size="14" fill="#111" stroke="#111" stroke-width="0.45" textLength="19.7" lengthAdjust="spacingAndGlyphs">180</text>
<text x="880.6" y="582" class="serif" font-size="10" fill="#111" stroke="#111" stroke-width="0.2">°</text>
<path d="M791.3,602.7 C778,608.3 765,619.3 758.77,636.14" fill="none" stroke="#222" stroke-width="1.1"/>
<path d="M757.9,638.5 L757.2,633.76 L761.51,635.36 Z" fill="#222"/>
<text x="705.7" y="654" class="sans" font-size="14" fill="#222" textLength="100.8" lengthAdjust="spacingAndGlyphs">Self-intersection</text>
<text x="728.6" y="666.8" class="sans" font-size="14" fill="#222" textLength="30" lengthAdjust="spacingAndGlyphs">point</text>
<path d="M764.4,662.6 h4.4 M764.4,664.9 h4.4" stroke="#333" stroke-width="1"/>
<text x="774.5" y="666" class="serif" font-size="15.5" font-weight="bold" fill="#111" stroke="#111" stroke-width="0.2">r</text>
<text x="781.5" y="671.7" class="serif" font-size="9.5" fill="#111" stroke="#111" stroke-width="0.2">t</text>
<line x1="162.1" y1="240.7" x2="162.1" y2="321.7" stroke="#1a1a1a" stroke-width="1.6" stroke-dasharray="6.5 5.2" stroke-dashoffset="5.4"/>
<circle cx="162.1" cy="240.7" r="9.2" fill="#000"/>
<text x="169" y="263.1" class="serif" font-size="16.5" fill="#111" stroke="#111" stroke-width="0.2">r</text>
<text x="176.2" y="269.6" class="serif" font-size="9.5" fill="#111" stroke="#111" stroke-width="0.2">t</text>
<line x1="519.4" y1="240.2" x2="519.4" y2="321.2" stroke="#1a1a1a" stroke-width="1.6" stroke-dasharray="6.5 5.2" stroke-dashoffset="5.4"/>
<circle cx="519.4" cy="240.2" r="9.2" fill="#000"/>
<text x="526.5" y="262.6" class="serif" font-size="16.5" fill="#111" stroke="#111" stroke-width="0.2">r</text>
<text x="533.7" y="269.1" class="serif" font-size="9.5" fill="#111" stroke="#111" stroke-width="0.2">t</text>
<line x1="865.9" y1="240.2" x2="865.9" y2="321.2" stroke="#1a1a1a" stroke-width="1.6" stroke-dasharray="6.5 5.2" stroke-dashoffset="5.4"/>
<circle cx="865.9" cy="240.2" r="9.2" fill="#000"/>
<text x="874" y="262.6" class="serif" font-size="16.5" fill="#111" stroke="#111" stroke-width="0.2">r</text>
<text x="881.2" y="269.1" class="serif" font-size="9.5" fill="#111" stroke="#111" stroke-width="0.2">t</text>
<line x1="162.9" y1="601.5" x2="162.9" y2="682.5" stroke="#1a1a1a" stroke-width="1.6" stroke-dasharray="6.5 5.2" stroke-dashoffset="5.4"/>
<circle cx="162.9" cy="601.5" r="9.2" fill="#000"/>
<text x="173" y="623.9" class="serif" font-size="16.5" fill="#111" stroke="#111" stroke-width="0.2">r</text>
<text x="180.2" y="630.4" class="serif" font-size="9.5" fill="#111" stroke="#111" stroke-width="0.2">t</text>
<line x1="519.6" y1="601.5" x2="519.6" y2="682.5" stroke="#1a1a1a" stroke-width="1.6" stroke-dasharray="6.5 5.2" stroke-dashoffset="5.4"/>
<circle cx="519.6" cy="601.5" r="9.2" fill="#000"/>
<text x="527.6" y="623.9" class="serif" font-size="16.5" fill="#111" stroke="#111" stroke-width="0.2">r</text>
<text x="534.8" y="630.4" class="serif" font-size="9.5" fill="#111" stroke="#111" stroke-width="0.2">t</text>
<line x1="865.9" y1="601.5" x2="865.9" y2="682.5" stroke="#1a1a1a" stroke-width="1.6" stroke-dasharray="6.5 5.2" stroke-dashoffset="5.4"/>
<circle cx="865.9" cy="601.5" r="9.2" fill="#000"/>
<text x="874.7" y="623.9" class="serif" font-size="16.5" fill="#111" stroke="#111" stroke-width="0.2">r</text>
<text x="881.9" y="630.4" class="serif" font-size="9.5" fill="#111" stroke="#111" stroke-width="0.2">t</text>
<line x1="32" y1="134.5" x2="46.5" y2="140.5" stroke="#aaa" stroke-width="1.2" stroke-dasharray="2.5 2"/>
<line x1="38.5" y1="139" x2="49.8" y2="174" stroke="#a8a8a8" stroke-width="1.3" stroke-dasharray="3 2"/>
<path d="M51.5,179.5 L47.09,174.59 L52.34,172.95 Z" fill="#a3a3a3"/>
<circle cx="24.6" cy="130.4" r="6.6" fill="#f29090"/>
<circle cx="52.1" cy="142.9" r="4.4" fill="#f7ef88"/>
<path d="M62,145 C68,149.5 80,149 85.53,137.28" fill="none" stroke="#222" stroke-width="1.1"/>
<path d="M86.6,135 L86.89,139.78 L82.73,137.82 Z" fill="#222"/>
<text x="59.7" y="129" class="sans" font-size="14.4" fill="#222" textLength="76.6" lengthAdjust="spacingAndGlyphs">Initial binary</text>
<line x1="154" y1="318.9" x2="168.7" y2="325.3" stroke="#555" stroke-width="1.3" stroke-dasharray="2.5 2"/>
<circle cx="146.5" cy="315.1" r="6.6" fill="#e8141e"/>
<circle cx="174.5" cy="328" r="4.8" fill="#f3df3a"/>
<path d="M182.4,328.2 C188,332 203,332.5 212.43,321.79" fill="none" stroke="#222" stroke-width="1.1"/>
<path d="M214.1,319.9 L213.05,324.57 L209.6,321.53 Z" fill="#222"/>
<text x="123.5" y="246.8" class="sans" font-size="15" fill="#222" textLength="17.8" lengthAdjust="spacingAndGlyphs">BH</text>
<text x="214.6" y="316.3" class="sans" font-size="14.2" fill="#222" textLength="100.8" lengthAdjust="spacingAndGlyphs">Hills mechanism</text>
<g transform="translate(0,0)">
<g filter="url(#blur1)">
<path d="M602.2,149.7 C607,150.5 615.5,158 615.4,167 C615.3,174 614,179.5 612.8,186.5 L606,186.5 C603,181.5 600.6,175 600.7,166.5 C600.8,158 600.5,152 602.2,149.7 Z" fill="url(#upG)"/>
<path d="M608.5,191 C614,190.5 620.5,196 622.3,203 C623.6,210 620.5,216 615.2,221 C609,227 600,232.5 593.1,235.6 C598,229.5 606,222.5 609.7,216.5 C612.6,211 612.6,206 612,201 C611.4,196.5 610,193 608.5,191 Z" fill="url(#loG)"/>
</g>
<circle cx="610.75" cy="187.9" r="5.1" fill="#e8101a"/>
<line x1="601.6" y1="188.3" x2="589.5" y2="188.3" stroke="#222" stroke-width="1.1"/>
<path d="M585.6,188.3 L590.1,186 L590.1,190.6 Z" fill="#222"/>
<path d="M595.3,169.5 C585,169.8 577.5,163 577.42,153.32" fill="none" stroke="#222" stroke-width="1.1"/>
<path d="M577.4,150.8 L579.73,154.98 L575.13,155.02 Z" fill="#222"/>
<path d="M601.3,215.3 C590,215 584.4,221 584.32,231.98" fill="none" stroke="#222" stroke-width="1.1"/>
<path d="M584.3,234.5 L582.03,230.28 L586.63,230.32 Z" fill="#222"/>
<text x="571.5" y="134.1" class="sans" font-size="14.5" fill="#222" textLength="59.5" lengthAdjust="spacingAndGlyphs">Unbound</text>
<text x="583.1" y="146" class="sans" font-size="14.5" fill="#222" textLength="36.9" lengthAdjust="spacingAndGlyphs">debris</text>
<text x="570.9" y="251.8" class="sans" font-size="13.8" fill="#222" textLength="39.2" lengthAdjust="spacingAndGlyphs">Bound</text>
<text x="572.1" y="263.9" class="sans" font-size="13.8" fill="#222" textLength="36.9" lengthAdjust="spacingAndGlyphs">debris</text>
</g>
<text x="488.9" y="188.4" class="sans" font-size="13.5" fill="#222" textLength="86.9" lengthAdjust="spacingAndGlyphs">Surviving core</text>
<text x="486.5" y="200.4" class="sans" font-size="13.5" fill="#222" textLength="91.8" lengthAdjust="spacingAndGlyphs">on bound orbit</text>
<g transform="translate(0,361.5)">
<g filter="url(#blur1)">
<path d="M602.2,149.7 C607,150.5 615.5,158 615.4,167 C615.3,174 614,179.5 612.8,186.5 L606,186.5 C603,181.5 600.6,175 600.7,166.5 C600.8,158 600.5,152 602.2,149.7 Z" fill="url(#upG)"/>
<path d="M608.5,191 C614,190.5 620.5,196 622.3,203 C623.6,210 620.5,216 615.2,221 C609,227 600,232.5 593.1,235.6 C598,229.5 606,222.5 609.7,216.5 C612.6,211 612.6,206 612,201 C611.4,196.5 610,193 608.5,191 Z" fill="url(#loG)"/>
</g>
<circle cx="610.75" cy="187.9" r="5.1" fill="#e8101a"/>
<line x1="601.6" y1="188.3" x2="589.5" y2="188.3" stroke="#222" stroke-width="1.1"/>
<path d="M585.6,188.3 L590.1,186 L590.1,190.6 Z" fill="#222"/>
<path d="M595.3,169.5 C585,169.8 577.5,163 577.42,153.32" fill="none" stroke="#222" stroke-width="1.1"/>
<path d="M577.4,150.8 L579.73,154.98 L575.13,155.02 Z" fill="#222"/>
<path d="M601.3,215.3 C590,215 584.4,221 584.32,231.98" fill="none" stroke="#222" stroke-width="1.1"/>
<path d="M584.3,234.5 L582.03,230.28 L586.63,230.32 Z" fill="#222"/>
<text x="571.5" y="134.1" class="sans" font-size="14.5" fill="#222" textLength="59.5" lengthAdjust="spacingAndGlyphs">Unbound</text>
<text x="583.1" y="146" class="sans" font-size="14.5" fill="#222" textLength="36.9" lengthAdjust="spacingAndGlyphs">debris</text>
<text x="570.9" y="251.8" class="sans" font-size="13.8" fill="#222" textLength="39.2" lengthAdjust="spacingAndGlyphs">Bound</text>
<text x="572.1" y="263.9" class="sans" font-size="13.8" fill="#222" textLength="36.9" lengthAdjust="spacingAndGlyphs">debris</text>
</g>
<text x="488.7" y="550.2" class="sans" font-size="13.5" fill="#222" textLength="87.6" lengthAdjust="spacingAndGlyphs">Surviving core</text>
<text x="482.8" y="561.9" class="sans" font-size="13.5" fill="#222" textLength="100.5" lengthAdjust="spacingAndGlyphs">on bound orbit?</text>
<path d="M519.7,320.5 C592.2,308 645,245.1 650.6,177.5" fill="none" stroke="#222" stroke-width="1.1"/>
<path d="M651,172.6 L653.11,177.69 L647.75,177.04 Z" fill="#111"/>
<circle cx="651.4" cy="167.6" r="4.4" fill="#f4e42a" filter="url(#blur1)"/>
<text class="sans" font-size="14.5" fill="#222"><textPath href="#hvp" startOffset="85" textLength="131" lengthAdjust="spacingAndGlyphs">Hypervelocity star</textPath></text>
</svg>
</body></html>
